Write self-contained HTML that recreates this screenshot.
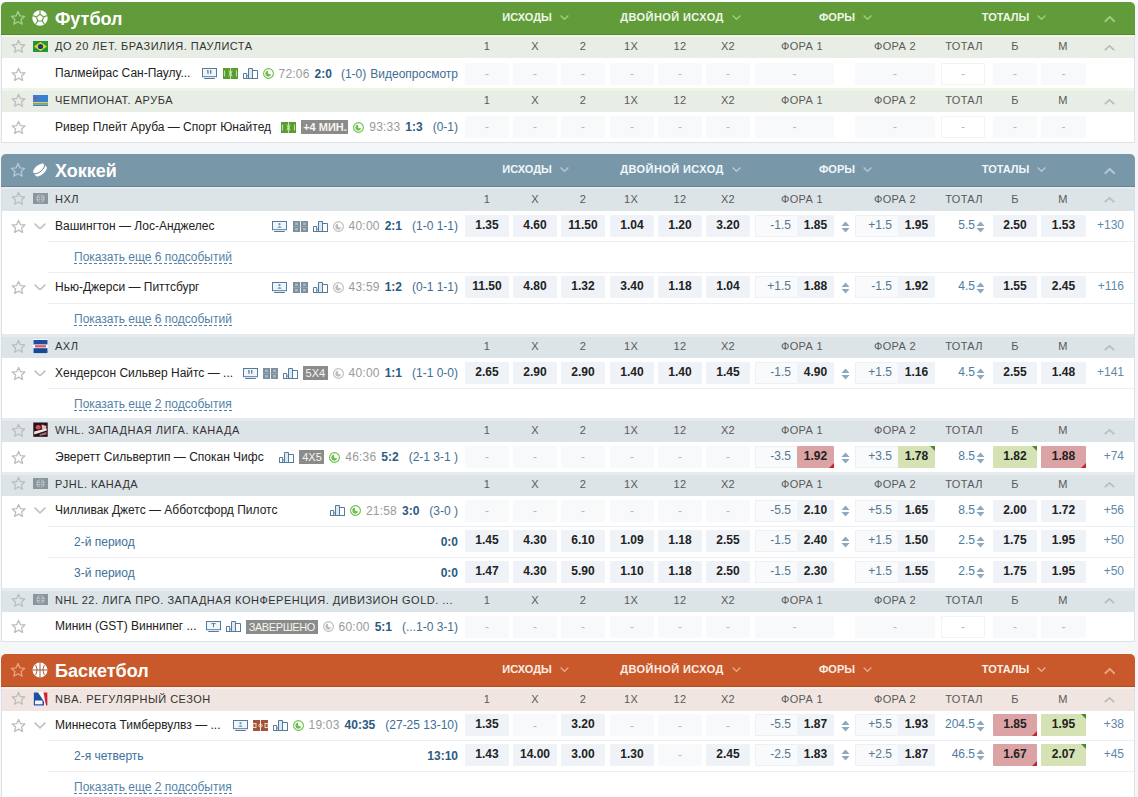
<!DOCTYPE html><html><head><meta charset="utf-8"><title>Live</title><style>html,body{margin:0;padding:0;}body{width:1138px;height:797px;overflow:hidden;position:relative;background:#f5f6f8;font-family:"Liberation Sans",sans-serif;}</style></head><body>
<div style="position:absolute;left:0px;top:0px;width:1138px;height:2px;background:#fbfcfc;"></div>
<div style="position:absolute;left:1px;top:2px;width:1132px;height:139.5px;background:#fff;border:1px solid #dde2e7;border-top:none;border-radius:5px 5px 0 0"></div>
<div style="position:absolute;left:1px;top:2px;width:1134px;height:32.5px;background:#629b3a;border-radius:5px 5px 0 0"></div>
<div style="position:absolute;left:1px;top:33.5px;width:1134px;height:1px;background:rgba(40,30,20,0.16);"></div>
<svg style="position:absolute;left:10.4px;top:10.4px" width="16" height="16" viewBox="0 0 24 24"><path d="M12 2.2l2.95 6.6 7.1.7-5.35 4.75 1.55 7-6.25-3.65-6.25 3.65 1.55-7L1.95 9.5l7.1-.7z" fill="none" stroke="#a6d08c" stroke-width="1.95" stroke-linejoin="round"/></svg>
<svg style="position:absolute;left:32.4px;top:9.8px" width="16" height="16" viewBox="0 0 16 16"><circle cx="8" cy="8" r="7.7" fill="#fff"/><polygon points="8.00,4.30 11.52,6.86 10.17,10.99 5.83,10.99 4.48,6.86" fill="#fff" stroke="#629b3a" stroke-width="1.1" stroke-linejoin="round"/><path d="M8.00 4.30L8.00 0.00M11.52 6.86L15.61 5.53M10.17 10.99L12.70 14.47M5.83 10.99L3.30 14.47M4.48 6.86L0.39 5.53" stroke="#629b3a" stroke-width="1.1"/></svg>
<div style="position:absolute;left:55px;top:9.7px;font-size:18px;line-height:1;color:#fff;font-weight:bold;white-space:nowrap;">Футбол</div>
<div style="position:absolute;left:435px;width:200px;top:12.1px;text-align:center;white-space:nowrap;font-size:11px;line-height:1;font-weight:bold;color:#eef7e7;letter-spacing:0px">ИСХОДЫ<span style="display:inline-block;width:8px;height:5px;margin-left:8px;position:relative;top:-0.8px"><svg width="9" height="5" viewBox="0 0 9 5" style="position:absolute;left:0;top:0"><path d="M0.6 0.6L4.5 4.3L8.4 0.6" fill="none" stroke="#9fcd82" stroke-width="1.4"/></svg></span></div>
<div style="position:absolute;left:580px;width:200px;top:12.1px;text-align:center;white-space:nowrap;font-size:11px;line-height:1;font-weight:bold;color:#eef7e7;letter-spacing:0.4px">ДВОЙНОЙ ИСХОД<span style="display:inline-block;width:8px;height:5px;margin-left:8px;position:relative;top:-0.8px"><svg width="9" height="5" viewBox="0 0 9 5" style="position:absolute;left:0;top:0"><path d="M0.6 0.6L4.5 4.3L8.4 0.6" fill="none" stroke="#9fcd82" stroke-width="1.4"/></svg></span></div>
<div style="position:absolute;left:745px;width:200px;top:12.1px;text-align:center;white-space:nowrap;font-size:11px;line-height:1;font-weight:bold;color:#eef7e7;letter-spacing:0px">ФОРЫ<span style="display:inline-block;width:8px;height:5px;margin-left:8px;position:relative;top:-0.8px"><svg width="9" height="5" viewBox="0 0 9 5" style="position:absolute;left:0;top:0"><path d="M0.6 0.6L4.5 4.3L8.4 0.6" fill="none" stroke="#9fcd82" stroke-width="1.4"/></svg></span></div>
<div style="position:absolute;left:913.5px;width:200px;top:12.1px;text-align:center;white-space:nowrap;font-size:11px;line-height:1;font-weight:bold;color:#eef7e7;letter-spacing:0px">ТОТАЛЫ<span style="display:inline-block;width:8px;height:5px;margin-left:8px;position:relative;top:-0.8px"><svg width="9" height="5" viewBox="0 0 9 5" style="position:absolute;left:0;top:0"><path d="M0.6 0.6L4.5 4.3L8.4 0.6" fill="none" stroke="#9fcd82" stroke-width="1.4"/></svg></span></div>
<svg style="position:absolute;left:1103.5px;top:16.4px" width="11.5" height="6.5" viewBox="0 0 11.5 6.5"><path d="M0.8 5.7L5.75 0.9L10.7 5.7" fill="none" stroke="#9fcd82" stroke-width="1.9"/></svg>
<div style="position:absolute;left:2px;top:34.5px;width:1132px;height:23.5px;background:#e8eee5;"></div>
<div style="position:absolute;left:2px;top:34.5px;width:1132px;height:2.5px;background:#eef7e6;"></div>
<svg style="position:absolute;left:10.5px;top:39.0px" width="15" height="15" viewBox="0 0 24 24"><path d="M12 2.2l2.95 6.6 7.1.7-5.35 4.75 1.55 7-6.25-3.65-6.25 3.65 1.55-7L1.95 9.5l7.1-.7z" fill="none" stroke="#bdbdbd" stroke-width="2.08" stroke-linejoin="round"/></svg>
<svg style="position:absolute;left:33px;top:40.75px" width="15" height="11" viewBox="0 0 15 11"><rect width="15" height="11" fill="#1f9a3a"/><path d="M7.5 1L14 5.5 7.5 10 1 5.5z" fill="#f3d21a"/><circle cx="7.5" cy="5.5" r="2.6" fill="#1d3b8c"/></svg>
<div style="position:absolute;left:55px;top:41.38px;font-size:11px;line-height:1;color:#333;font-weight:normal;white-space:nowrap;letter-spacing:0.5px">ДО 20 ЛЕТ. БРАЗИЛИЯ. ПАУЛИСТА</div>
<div style="position:absolute;left:437.0px;width:100px;text-align:center;top:41.38px;font-size:11px;line-height:1;color:#5a5a5a;font-weight:normal;white-space:nowrap;letter-spacing:0.3px">1</div>
<div style="position:absolute;left:485.0px;width:100px;text-align:center;top:41.38px;font-size:11px;line-height:1;color:#5a5a5a;font-weight:normal;white-space:nowrap;letter-spacing:0.3px">X</div>
<div style="position:absolute;left:533.0px;width:100px;text-align:center;top:41.38px;font-size:11px;line-height:1;color:#5a5a5a;font-weight:normal;white-space:nowrap;letter-spacing:0.3px">2</div>
<div style="position:absolute;left:581.0px;width:100px;text-align:center;top:41.38px;font-size:11px;line-height:1;color:#5a5a5a;font-weight:normal;white-space:nowrap;letter-spacing:0.3px">1X</div>
<div style="position:absolute;left:630.0px;width:100px;text-align:center;top:41.38px;font-size:11px;line-height:1;color:#5a5a5a;font-weight:normal;white-space:nowrap;letter-spacing:0.3px">12</div>
<div style="position:absolute;left:678.0px;width:100px;text-align:center;top:41.38px;font-size:11px;line-height:1;color:#5a5a5a;font-weight:normal;white-space:nowrap;letter-spacing:0.3px">X2</div>
<div style="position:absolute;left:752.0px;width:100px;text-align:center;top:41.38px;font-size:11px;line-height:1;color:#5a5a5a;font-weight:normal;white-space:nowrap;letter-spacing:0.3px">ФОРА 1</div>
<div style="position:absolute;left:845.0px;width:100px;text-align:center;top:41.38px;font-size:11px;line-height:1;color:#5a5a5a;font-weight:normal;white-space:nowrap;letter-spacing:0.3px">ФОРА 2</div>
<div style="position:absolute;left:914.0px;width:100px;text-align:center;top:41.38px;font-size:11px;line-height:1;color:#5a5a5a;font-weight:normal;white-space:nowrap;letter-spacing:0.3px">ТОТАЛ</div>
<div style="position:absolute;left:965.0px;width:100px;text-align:center;top:41.38px;font-size:11px;line-height:1;color:#5a5a5a;font-weight:normal;white-space:nowrap;letter-spacing:0.3px">Б</div>
<div style="position:absolute;left:1013.0px;width:100px;text-align:center;top:41.38px;font-size:11px;line-height:1;color:#5a5a5a;font-weight:normal;white-space:nowrap;letter-spacing:0.3px">М</div>
<svg style="position:absolute;left:1103.8px;top:44.8px" width="11" height="6" viewBox="0 0 11 6"><path d="M0.8 5.2L5.5 0.9L10.2 5.2" fill="none" stroke="#b9bcbf" stroke-width="1.7"/></svg>
<svg style="position:absolute;left:11.0px;top:66.6px" width="15.2" height="15.2" viewBox="0 0 24 24"><path d="M12 2.2l2.95 6.6 7.1.7-5.35 4.75 1.55 7-6.25-3.65-6.25 3.65 1.55-7L1.95 9.5l7.1-.7z" fill="none" stroke="#bdbdbd" stroke-width="2.05" stroke-linejoin="round"/></svg>
<div style="position:absolute;left:55px;top:67.4px;font-size:12px;line-height:1;color:#222;font-weight:normal;white-space:nowrap;">Палмейрас Сан-Паулу...</div>
<div style="position:absolute;right:680px;top:65.7px;height:16px;display:flex;align-items:center;white-space:nowrap;font-size:12px"><span style="position:relative;display:inline-block;width:15px;height:16px;margin-left:0px"><svg style="position:absolute;left:0px;top:2.5px" width="15" height="11" viewBox="0 0 15 11"><rect x="0.5" y="0.5" width="14" height="8.2" fill="#eef6fc" stroke="#557a9b" stroke-width="1"/><path d="M6 2.4v3.4M8.8 2.4v3.4M5.2 2.9l0.8-0.5M8 2.9l0.8-0.5" stroke="#3d5a72" stroke-width="1"/><rect x="2.2" y="10" width="10.6" height="1" fill="#557a9b"/></svg></span><span style="position:relative;display:inline-block;width:15px;height:16px;margin-left:6px"><svg style="position:absolute;left:0px;top:2.5999999999999996px" width="15" height="11" viewBox="0 0 15 11"><rect width="15" height="11" fill="#5a9c31"/><path d="M7.5 0v11" stroke="#c2e6a8" stroke-width="1"/><path d="M5.8 2.5c1.2 1.5 1.2 4.5 0 6M9.2 2.5c-1.2 1.5-1.2 4.5 0 6" fill="none" stroke="#c2e6a8" stroke-width="0.9"/><path d="M1.6 2.5v6M13.4 2.5v6" stroke="#c2e6a8" stroke-width="1"/></svg></span><span style="position:relative;display:inline-block;width:15px;height:16px;margin-left:5px"><svg style="position:absolute;left:0px;top:2.5px" width="15" height="11" viewBox="0 0 15 11"><rect x="5.5" y="0.5" width="4" height="10" fill="#dbe9f3"/><path d="M0.5 10.5V5.5h3.2v5M3.7 8h2M5.5 10.5V0.5h4v10M9.5 2.5h5v8M0 10.5h15" fill="none" stroke="#557a9b" stroke-width="1"/></svg></span><span style="position:relative;display:inline-block;width:11px;height:16px;margin-left:5px"><svg style="position:absolute;left:0px;top:2.5px" width="11" height="11" viewBox="0 0 11 11"><circle cx="5.5" cy="5.5" r="4.9" fill="#fff" stroke="#6cbf4a" stroke-width="1.1"/><path d="M4.9 2.5A3.1 3.1 0 1 0 8.3 6.6L5.3 5.9z" fill="#6cbf4a"/></svg></span><span style="color:#9a9a9a;font-weight:normal;margin-left:4.8px;letter-spacing:0.2px">72:06</span><span style="color:#2b5b82;font-weight:bold;margin-left:5px;letter-spacing:0px">2:0</span><span style="color:#3f6e93;font-weight:normal;margin-left:9px;letter-spacing:0px">(1-0)</span><span style="color:#3f6e93;font-weight:normal;margin-left:4px;letter-spacing:0px">Видеопросмотр</span></div>
<div style="position:absolute;left:465px;top:62.7px;width:44px;height:22px;background:#f8f9fb;border-radius:1px"></div>
<div style="position:absolute;left:465.0px;width:44px;text-align:center;top:67.84px;font-size:12px;line-height:1;color:#b3b7bb;font-weight:normal;white-space:nowrap;">-</div>
<div style="position:absolute;left:513px;top:62.7px;width:44px;height:22px;background:#f8f9fb;border-radius:1px"></div>
<div style="position:absolute;left:513.0px;width:44px;text-align:center;top:67.84px;font-size:12px;line-height:1;color:#b3b7bb;font-weight:normal;white-space:nowrap;">-</div>
<div style="position:absolute;left:561px;top:62.7px;width:44px;height:22px;background:#f8f9fb;border-radius:1px"></div>
<div style="position:absolute;left:561.0px;width:44px;text-align:center;top:67.84px;font-size:12px;line-height:1;color:#b3b7bb;font-weight:normal;white-space:nowrap;">-</div>
<div style="position:absolute;left:610px;top:62.7px;width:44px;height:22px;background:#f8f9fb;border-radius:1px"></div>
<div style="position:absolute;left:610.0px;width:44px;text-align:center;top:67.84px;font-size:12px;line-height:1;color:#b3b7bb;font-weight:normal;white-space:nowrap;">-</div>
<div style="position:absolute;left:658px;top:62.7px;width:44px;height:22px;background:#f8f9fb;border-radius:1px"></div>
<div style="position:absolute;left:658.0px;width:44px;text-align:center;top:67.84px;font-size:12px;line-height:1;color:#b3b7bb;font-weight:normal;white-space:nowrap;">-</div>
<div style="position:absolute;left:706px;top:62.7px;width:44px;height:22px;background:#f8f9fb;border-radius:1px"></div>
<div style="position:absolute;left:706.0px;width:44px;text-align:center;top:67.84px;font-size:12px;line-height:1;color:#b3b7bb;font-weight:normal;white-space:nowrap;">-</div>
<div style="position:absolute;left:755px;top:62.7px;width:79px;height:22px;background:#f8f9fb;border-radius:1px"></div>
<div style="position:absolute;left:755.0px;width:79px;text-align:center;top:67.84px;font-size:12px;line-height:1;color:#b3b7bb;font-weight:normal;white-space:nowrap;">-</div>
<div style="position:absolute;left:855px;top:62.7px;width:80px;height:22px;background:#f8f9fb;border-radius:1px"></div>
<div style="position:absolute;left:855.0px;width:80px;text-align:center;top:67.84px;font-size:12px;line-height:1;color:#b3b7bb;font-weight:normal;white-space:nowrap;">-</div>
<div style="position:absolute;left:941px;top:62.7px;width:44px;height:22px;background:#fff;box-sizing:border-box;border:1px solid #f1f3f5"></div>
<div style="position:absolute;left:943.0px;width:40px;text-align:center;top:67.84px;font-size:12px;line-height:1;color:#b3b7bb;font-weight:normal;white-space:nowrap;">-</div>
<div style="position:absolute;left:993px;top:62.7px;width:44px;height:22px;background:#f8f9fb;border-radius:1px"></div>
<div style="position:absolute;left:993.0px;width:44px;text-align:center;top:67.84px;font-size:12px;line-height:1;color:#b3b7bb;font-weight:normal;white-space:nowrap;">-</div>
<div style="position:absolute;left:1041px;top:62.7px;width:45px;height:22px;background:#f8f9fb;border-radius:1px"></div>
<div style="position:absolute;left:1041.0px;width:45px;text-align:center;top:67.84px;font-size:12px;line-height:1;color:#b3b7bb;font-weight:normal;white-space:nowrap;">-</div>
<div style="position:absolute;left:2px;top:88px;width:1132px;height:24px;background:#e8eee5;"></div>
<div style="position:absolute;left:2px;top:88px;width:1132px;height:2.5px;background:#eef7e6;"></div>
<svg style="position:absolute;left:10.5px;top:92.7px" width="15" height="15" viewBox="0 0 24 24"><path d="M12 2.2l2.95 6.6 7.1.7-5.35 4.75 1.55 7-6.25-3.65-6.25 3.65 1.55-7L1.95 9.5l7.1-.7z" fill="none" stroke="#bdbdbd" stroke-width="2.08" stroke-linejoin="round"/></svg>
<svg style="position:absolute;left:33px;top:94.5px" width="15" height="11" viewBox="0 0 15 11"><rect width="15" height="11" fill="#3b7fd0"/><rect y="7" width="15" height="1" fill="#e8d23a"/><rect y="8.6" width="15" height="0.9" fill="#e8d23a"/><path d="M2.5 1.2l.5 1.3 1.3.5-1.3.5-.5 1.3-.5-1.3-1.3-.5 1.3-.5z" fill="#d33"/></svg>
<div style="position:absolute;left:55px;top:95.13px;font-size:11px;line-height:1;color:#333;font-weight:normal;white-space:nowrap;letter-spacing:0.5px">ЧЕМПИОНАТ. АРУБА</div>
<div style="position:absolute;left:437.0px;width:100px;text-align:center;top:95.13px;font-size:11px;line-height:1;color:#5a5a5a;font-weight:normal;white-space:nowrap;letter-spacing:0.3px">1</div>
<div style="position:absolute;left:485.0px;width:100px;text-align:center;top:95.13px;font-size:11px;line-height:1;color:#5a5a5a;font-weight:normal;white-space:nowrap;letter-spacing:0.3px">X</div>
<div style="position:absolute;left:533.0px;width:100px;text-align:center;top:95.13px;font-size:11px;line-height:1;color:#5a5a5a;font-weight:normal;white-space:nowrap;letter-spacing:0.3px">2</div>
<div style="position:absolute;left:581.0px;width:100px;text-align:center;top:95.13px;font-size:11px;line-height:1;color:#5a5a5a;font-weight:normal;white-space:nowrap;letter-spacing:0.3px">1X</div>
<div style="position:absolute;left:630.0px;width:100px;text-align:center;top:95.13px;font-size:11px;line-height:1;color:#5a5a5a;font-weight:normal;white-space:nowrap;letter-spacing:0.3px">12</div>
<div style="position:absolute;left:678.0px;width:100px;text-align:center;top:95.13px;font-size:11px;line-height:1;color:#5a5a5a;font-weight:normal;white-space:nowrap;letter-spacing:0.3px">X2</div>
<div style="position:absolute;left:752.0px;width:100px;text-align:center;top:95.13px;font-size:11px;line-height:1;color:#5a5a5a;font-weight:normal;white-space:nowrap;letter-spacing:0.3px">ФОРА 1</div>
<div style="position:absolute;left:845.0px;width:100px;text-align:center;top:95.13px;font-size:11px;line-height:1;color:#5a5a5a;font-weight:normal;white-space:nowrap;letter-spacing:0.3px">ФОРА 2</div>
<div style="position:absolute;left:914.0px;width:100px;text-align:center;top:95.13px;font-size:11px;line-height:1;color:#5a5a5a;font-weight:normal;white-space:nowrap;letter-spacing:0.3px">ТОТАЛ</div>
<div style="position:absolute;left:965.0px;width:100px;text-align:center;top:95.13px;font-size:11px;line-height:1;color:#5a5a5a;font-weight:normal;white-space:nowrap;letter-spacing:0.3px">Б</div>
<div style="position:absolute;left:1013.0px;width:100px;text-align:center;top:95.13px;font-size:11px;line-height:1;color:#5a5a5a;font-weight:normal;white-space:nowrap;letter-spacing:0.3px">М</div>
<svg style="position:absolute;left:1103.8px;top:98.5px" width="11" height="6" viewBox="0 0 11 6"><path d="M0.8 5.2L5.5 0.9L10.2 5.2" fill="none" stroke="#b9bcbf" stroke-width="1.7"/></svg>
<svg style="position:absolute;left:11.0px;top:119.9px" width="15.2" height="15.2" viewBox="0 0 24 24"><path d="M12 2.2l2.95 6.6 7.1.7-5.35 4.75 1.55 7-6.25-3.65-6.25 3.65 1.55-7L1.95 9.5l7.1-.7z" fill="none" stroke="#bdbdbd" stroke-width="2.05" stroke-linejoin="round"/></svg>
<div style="position:absolute;left:55px;top:120.7px;font-size:12px;line-height:1;color:#222;font-weight:normal;white-space:nowrap;">Ривер Плейт Аруба — Спорт Юнайтед</div>
<div style="position:absolute;right:680px;top:119px;height:16px;display:flex;align-items:center;white-space:nowrap;font-size:12px"><span style="position:relative;display:inline-block;width:15px;height:16px;margin-left:0px"><svg style="position:absolute;left:0px;top:2.5999999999999996px" width="15" height="11" viewBox="0 0 15 11"><rect width="15" height="11" fill="#5a9c31"/><path d="M7.5 0v11" stroke="#c2e6a8" stroke-width="1"/><path d="M5.8 2.5c1.2 1.5 1.2 4.5 0 6M9.2 2.5c-1.2 1.5-1.2 4.5 0 6" fill="none" stroke="#c2e6a8" stroke-width="0.9"/><path d="M1.6 2.5v6M13.4 2.5v6" stroke="#c2e6a8" stroke-width="1"/></svg></span><span style="display:inline-block;margin-left:5px;width:47px;height:14px;background:#8b8b8b;color:#f6f6ee;font-size:11px;font-weight:normal;line-height:14px;text-align:center;font-weight:bold">+4 МИН.</span><span style="position:relative;display:inline-block;width:11px;height:16px;margin-left:5px"><svg style="position:absolute;left:0px;top:2.5px" width="11" height="11" viewBox="0 0 11 11"><circle cx="5.5" cy="5.5" r="4.9" fill="#fff" stroke="#6cbf4a" stroke-width="1.1"/><path d="M4.9 2.5A3.1 3.1 0 1 0 8.3 6.6L5.3 5.9z" fill="#6cbf4a"/></svg></span><span style="color:#9a9a9a;font-weight:normal;margin-left:4.8px;letter-spacing:0.2px">93:33</span><span style="color:#2b5b82;font-weight:bold;margin-left:5px;letter-spacing:0px">1:3</span><span style="color:#3f6e93;font-weight:normal;margin-left:10px;letter-spacing:0px">(0-1)</span></div>
<div style="position:absolute;left:465px;top:116px;width:44px;height:22px;background:#f8f9fb;border-radius:1px"></div>
<div style="position:absolute;left:465.0px;width:44px;text-align:center;top:121.14px;font-size:12px;line-height:1;color:#b3b7bb;font-weight:normal;white-space:nowrap;">-</div>
<div style="position:absolute;left:513px;top:116px;width:44px;height:22px;background:#f8f9fb;border-radius:1px"></div>
<div style="position:absolute;left:513.0px;width:44px;text-align:center;top:121.14px;font-size:12px;line-height:1;color:#b3b7bb;font-weight:normal;white-space:nowrap;">-</div>
<div style="position:absolute;left:561px;top:116px;width:44px;height:22px;background:#f8f9fb;border-radius:1px"></div>
<div style="position:absolute;left:561.0px;width:44px;text-align:center;top:121.14px;font-size:12px;line-height:1;color:#b3b7bb;font-weight:normal;white-space:nowrap;">-</div>
<div style="position:absolute;left:610px;top:116px;width:44px;height:22px;background:#f8f9fb;border-radius:1px"></div>
<div style="position:absolute;left:610.0px;width:44px;text-align:center;top:121.14px;font-size:12px;line-height:1;color:#b3b7bb;font-weight:normal;white-space:nowrap;">-</div>
<div style="position:absolute;left:658px;top:116px;width:44px;height:22px;background:#f8f9fb;border-radius:1px"></div>
<div style="position:absolute;left:658.0px;width:44px;text-align:center;top:121.14px;font-size:12px;line-height:1;color:#b3b7bb;font-weight:normal;white-space:nowrap;">-</div>
<div style="position:absolute;left:706px;top:116px;width:44px;height:22px;background:#f8f9fb;border-radius:1px"></div>
<div style="position:absolute;left:706.0px;width:44px;text-align:center;top:121.14px;font-size:12px;line-height:1;color:#b3b7bb;font-weight:normal;white-space:nowrap;">-</div>
<div style="position:absolute;left:755px;top:116px;width:79px;height:22px;background:#f8f9fb;border-radius:1px"></div>
<div style="position:absolute;left:755.0px;width:79px;text-align:center;top:121.14px;font-size:12px;line-height:1;color:#b3b7bb;font-weight:normal;white-space:nowrap;">-</div>
<div style="position:absolute;left:855px;top:116px;width:80px;height:22px;background:#f8f9fb;border-radius:1px"></div>
<div style="position:absolute;left:855.0px;width:80px;text-align:center;top:121.14px;font-size:12px;line-height:1;color:#b3b7bb;font-weight:normal;white-space:nowrap;">-</div>
<div style="position:absolute;left:941px;top:116px;width:44px;height:22px;background:#fff;box-sizing:border-box;border:1px solid #f1f3f5"></div>
<div style="position:absolute;left:943.0px;width:40px;text-align:center;top:121.14px;font-size:12px;line-height:1;color:#b3b7bb;font-weight:normal;white-space:nowrap;">-</div>
<div style="position:absolute;left:993px;top:116px;width:44px;height:22px;background:#f8f9fb;border-radius:1px"></div>
<div style="position:absolute;left:993.0px;width:44px;text-align:center;top:121.14px;font-size:12px;line-height:1;color:#b3b7bb;font-weight:normal;white-space:nowrap;">-</div>
<div style="position:absolute;left:1041px;top:116px;width:45px;height:22px;background:#f8f9fb;border-radius:1px"></div>
<div style="position:absolute;left:1041.0px;width:45px;text-align:center;top:121.14px;font-size:12px;line-height:1;color:#b3b7bb;font-weight:normal;white-space:nowrap;">-</div>
<div style="position:absolute;left:1px;top:154px;width:1132px;height:487.29999999999995px;background:#fff;border:1px solid #dde2e7;border-top:none;border-radius:5px 5px 0 0"></div>
<div style="position:absolute;left:1px;top:154px;width:1134px;height:32.5px;background:#7897a9;border-radius:5px 5px 0 0"></div>
<div style="position:absolute;left:1px;top:185.5px;width:1134px;height:1px;background:rgba(40,30,20,0.16);"></div>
<svg style="position:absolute;left:10.4px;top:162.4px" width="16" height="16" viewBox="0 0 24 24"><path d="M12 2.2l2.95 6.6 7.1.7-5.35 4.75 1.55 7-6.25-3.65-6.25 3.65 1.55-7L1.95 9.5l7.1-.7z" fill="none" stroke="#b3c8d4" stroke-width="1.95" stroke-linejoin="round"/></svg>
<svg style="position:absolute;left:32.2px;top:161.6px" width="16" height="16" viewBox="0 0 16 16"><g transform="rotate(-40 8 8)"><path d="M1 6.2a7 3.3 0 0 1 14 0v3.4a7 3.3 0 0 1-14 0z" fill="#fff"/><path d="M1 6.2a7 3.3 0 0 0 14 0" fill="none" stroke="#5c7686" stroke-width="0.9"/></g></svg>
<div style="position:absolute;left:55px;top:161.7px;font-size:18px;line-height:1;color:#fff;font-weight:bold;white-space:nowrap;">Хоккей</div>
<div style="position:absolute;left:435px;width:200px;top:164.1px;text-align:center;white-space:nowrap;font-size:11px;line-height:1;font-weight:bold;color:#f2f7fa;letter-spacing:0px">ИСХОДЫ<span style="display:inline-block;width:8px;height:5px;margin-left:8px;position:relative;top:-0.8px"><svg width="9" height="5" viewBox="0 0 9 5" style="position:absolute;left:0;top:0"><path d="M0.6 0.6L4.5 4.3L8.4 0.6" fill="none" stroke="#b4c9d5" stroke-width="1.4"/></svg></span></div>
<div style="position:absolute;left:580px;width:200px;top:164.1px;text-align:center;white-space:nowrap;font-size:11px;line-height:1;font-weight:bold;color:#f2f7fa;letter-spacing:0.4px">ДВОЙНОЙ ИСХОД<span style="display:inline-block;width:8px;height:5px;margin-left:8px;position:relative;top:-0.8px"><svg width="9" height="5" viewBox="0 0 9 5" style="position:absolute;left:0;top:0"><path d="M0.6 0.6L4.5 4.3L8.4 0.6" fill="none" stroke="#b4c9d5" stroke-width="1.4"/></svg></span></div>
<div style="position:absolute;left:745px;width:200px;top:164.1px;text-align:center;white-space:nowrap;font-size:11px;line-height:1;font-weight:bold;color:#f2f7fa;letter-spacing:0px">ФОРЫ<span style="display:inline-block;width:8px;height:5px;margin-left:8px;position:relative;top:-0.8px"><svg width="9" height="5" viewBox="0 0 9 5" style="position:absolute;left:0;top:0"><path d="M0.6 0.6L4.5 4.3L8.4 0.6" fill="none" stroke="#b4c9d5" stroke-width="1.4"/></svg></span></div>
<div style="position:absolute;left:913.5px;width:200px;top:164.1px;text-align:center;white-space:nowrap;font-size:11px;line-height:1;font-weight:bold;color:#f2f7fa;letter-spacing:0px">ТОТАЛЫ<span style="display:inline-block;width:8px;height:5px;margin-left:8px;position:relative;top:-0.8px"><svg width="9" height="5" viewBox="0 0 9 5" style="position:absolute;left:0;top:0"><path d="M0.6 0.6L4.5 4.3L8.4 0.6" fill="none" stroke="#b4c9d5" stroke-width="1.4"/></svg></span></div>
<svg style="position:absolute;left:1103.5px;top:168.3px" width="11.5" height="6.5" viewBox="0 0 11.5 6.5"><path d="M0.8 5.7L5.75 0.9L10.7 5.7" fill="none" stroke="#b4c9d5" stroke-width="1.9"/></svg>
<div style="position:absolute;left:2px;top:186.5px;width:1132px;height:24.5px;background:#dde4e8;"></div>
<div style="position:absolute;left:2px;top:186.5px;width:1132px;height:2.5px;background:#e5ebee;"></div>
<svg style="position:absolute;left:10.5px;top:191.4px" width="15" height="15" viewBox="0 0 24 24"><path d="M12 2.2l2.95 6.6 7.1.7-5.35 4.75 1.55 7-6.25-3.65-6.25 3.65 1.55-7L1.95 9.5l7.1-.7z" fill="none" stroke="#bdbdbd" stroke-width="2.08" stroke-linejoin="round"/></svg>
<svg style="position:absolute;left:33px;top:193.25px" width="15" height="11" viewBox="0 0 15 11"><rect width="15" height="11" fill="#8b959d"/><circle cx="7.5" cy="5.5" r="4" fill="#c9d0d5"/><path d="M3.5 5.5h8M7.5 1.5v8M4.6 3.2h5.8M4.6 7.8h5.8" stroke="#8b959d" stroke-width="0.8"/><ellipse cx="7.5" cy="5.5" rx="1.8" ry="4" fill="none" stroke="#8b959d" stroke-width="0.8"/></svg>
<div style="position:absolute;left:55px;top:193.88px;font-size:11px;line-height:1;color:#333;font-weight:normal;white-space:nowrap;letter-spacing:0.5px">НХЛ</div>
<div style="position:absolute;left:437.0px;width:100px;text-align:center;top:193.88px;font-size:11px;line-height:1;color:#5a5a5a;font-weight:normal;white-space:nowrap;letter-spacing:0.3px">1</div>
<div style="position:absolute;left:485.0px;width:100px;text-align:center;top:193.88px;font-size:11px;line-height:1;color:#5a5a5a;font-weight:normal;white-space:nowrap;letter-spacing:0.3px">X</div>
<div style="position:absolute;left:533.0px;width:100px;text-align:center;top:193.88px;font-size:11px;line-height:1;color:#5a5a5a;font-weight:normal;white-space:nowrap;letter-spacing:0.3px">2</div>
<div style="position:absolute;left:581.0px;width:100px;text-align:center;top:193.88px;font-size:11px;line-height:1;color:#5a5a5a;font-weight:normal;white-space:nowrap;letter-spacing:0.3px">1X</div>
<div style="position:absolute;left:630.0px;width:100px;text-align:center;top:193.88px;font-size:11px;line-height:1;color:#5a5a5a;font-weight:normal;white-space:nowrap;letter-spacing:0.3px">12</div>
<div style="position:absolute;left:678.0px;width:100px;text-align:center;top:193.88px;font-size:11px;line-height:1;color:#5a5a5a;font-weight:normal;white-space:nowrap;letter-spacing:0.3px">X2</div>
<div style="position:absolute;left:752.0px;width:100px;text-align:center;top:193.88px;font-size:11px;line-height:1;color:#5a5a5a;font-weight:normal;white-space:nowrap;letter-spacing:0.3px">ФОРА 1</div>
<div style="position:absolute;left:845.0px;width:100px;text-align:center;top:193.88px;font-size:11px;line-height:1;color:#5a5a5a;font-weight:normal;white-space:nowrap;letter-spacing:0.3px">ФОРА 2</div>
<div style="position:absolute;left:914.0px;width:100px;text-align:center;top:193.88px;font-size:11px;line-height:1;color:#5a5a5a;font-weight:normal;white-space:nowrap;letter-spacing:0.3px">ТОТАЛ</div>
<div style="position:absolute;left:965.0px;width:100px;text-align:center;top:193.88px;font-size:11px;line-height:1;color:#5a5a5a;font-weight:normal;white-space:nowrap;letter-spacing:0.3px">Б</div>
<div style="position:absolute;left:1013.0px;width:100px;text-align:center;top:193.88px;font-size:11px;line-height:1;color:#5a5a5a;font-weight:normal;white-space:nowrap;letter-spacing:0.3px">М</div>
<svg style="position:absolute;left:1103.8px;top:197.2px" width="11" height="6" viewBox="0 0 11 6"><path d="M0.8 5.2L5.5 0.9L10.2 5.2" fill="none" stroke="#b9bcbf" stroke-width="1.7"/></svg>
<svg style="position:absolute;left:11.0px;top:218.9px" width="15.2" height="15.2" viewBox="0 0 24 24"><path d="M12 2.2l2.95 6.6 7.1.7-5.35 4.75 1.55 7-6.25-3.65-6.25 3.65 1.55-7L1.95 9.5l7.1-.7z" fill="none" stroke="#bdbdbd" stroke-width="2.05" stroke-linejoin="round"/></svg>
<svg style="position:absolute;left:34.0px;top:222.8px" width="12" height="6.5" viewBox="0 0 12 6.5"><path d="M0.6 0.6L6.0 5.8L11.4 0.6" fill="none" stroke="#bfc3c7" stroke-width="1.7"/></svg>
<div style="position:absolute;left:55px;top:219.7px;font-size:12px;line-height:1;color:#222;font-weight:normal;white-space:nowrap;">Вашингтон — Лос-Анджелес</div>
<div style="position:absolute;right:680px;top:218px;height:16px;display:flex;align-items:center;white-space:nowrap;font-size:12px"><span style="position:relative;display:inline-block;width:15px;height:16px;margin-left:0px"><svg style="position:absolute;left:0px;top:2.5px" width="15" height="11" viewBox="0 0 15 11"><rect x="0.5" y="0.5" width="14" height="8.2" fill="#eef6fc" stroke="#557a9b" stroke-width="1"/><circle cx="7.5" cy="3.2" r="1.1" fill="#6d93b3"/><path d="M5.6 6.8c0-2 3.8-2 3.8 0z" fill="#6d93b3"/><rect x="2.2" y="10" width="10.6" height="1" fill="#557a9b"/></svg></span><span style="position:relative;display:inline-block;width:15px;height:16px;margin-left:6px"><svg style="position:absolute;left:0px;top:2.5px" width="15" height="11" viewBox="0 0 15 11"><rect width="15" height="11" fill="#7b8e9c"/><path d="M7.5 0v11" stroke="#f2f4f6" stroke-width="1"/><rect x="2" y="1.6" width="3" height="2.4" fill="#aab8c2"/><rect x="10" y="1.6" width="3" height="2.4" fill="#aab8c2"/><rect x="2" y="7" width="3" height="2.4" fill="#aab8c2"/><rect x="10" y="7" width="3" height="2.4" fill="#aab8c2"/><path d="M0 5.5h15" stroke="#9aaab6" stroke-width="0.8"/></svg></span><span style="position:relative;display:inline-block;width:15px;height:16px;margin-left:5px"><svg style="position:absolute;left:0px;top:2.5px" width="15" height="11" viewBox="0 0 15 11"><rect x="5.5" y="0.5" width="4" height="10" fill="#dbe9f3"/><path d="M0.5 10.5V5.5h3.2v5M3.7 8h2M5.5 10.5V0.5h4v10M9.5 2.5h5v8M0 10.5h15" fill="none" stroke="#557a9b" stroke-width="1"/></svg></span><span style="position:relative;display:inline-block;width:11px;height:16px;margin-left:5px"><svg style="position:absolute;left:0px;top:2.5px" width="11" height="11" viewBox="0 0 11 11"><circle cx="5.5" cy="5.5" r="4.9" fill="#fff" stroke="#bdbdbd" stroke-width="1.1"/><path d="M4.9 2.5A3.1 3.1 0 1 0 8.3 6.6L5.3 5.9z" fill="#bdbdbd"/></svg></span><span style="color:#9a9a9a;font-weight:normal;margin-left:4.8px;letter-spacing:0.2px">40:00</span><span style="color:#2b5b82;font-weight:bold;margin-left:5px;letter-spacing:0px">2:1</span><span style="color:#3f6e93;font-weight:normal;margin-left:10px;letter-spacing:0px">(1-0 1-1)</span></div>
<div style="position:absolute;left:465px;top:215px;width:44px;height:22px;background:#eff2f6;border-radius:1px"></div>
<div style="position:absolute;left:465.0px;width:44px;text-align:center;top:219.0px;font-size:12px;line-height:1;color:#222;font-weight:bold;white-space:nowrap;">1.35</div>
<div style="position:absolute;left:513px;top:215px;width:44px;height:22px;background:#eff2f6;border-radius:1px"></div>
<div style="position:absolute;left:513.0px;width:44px;text-align:center;top:219.0px;font-size:12px;line-height:1;color:#222;font-weight:bold;white-space:nowrap;">4.60</div>
<div style="position:absolute;left:561px;top:215px;width:44px;height:22px;background:#eff2f6;border-radius:1px"></div>
<div style="position:absolute;left:561.0px;width:44px;text-align:center;top:219.0px;font-size:12px;line-height:1;color:#222;font-weight:bold;white-space:nowrap;">11.50</div>
<div style="position:absolute;left:610px;top:215px;width:44px;height:22px;background:#eff2f6;border-radius:1px"></div>
<div style="position:absolute;left:610.0px;width:44px;text-align:center;top:219.0px;font-size:12px;line-height:1;color:#222;font-weight:bold;white-space:nowrap;">1.04</div>
<div style="position:absolute;left:658px;top:215px;width:44px;height:22px;background:#eff2f6;border-radius:1px"></div>
<div style="position:absolute;left:658.0px;width:44px;text-align:center;top:219.0px;font-size:12px;line-height:1;color:#222;font-weight:bold;white-space:nowrap;">1.20</div>
<div style="position:absolute;left:706px;top:215px;width:44px;height:22px;background:#eff2f6;border-radius:1px"></div>
<div style="position:absolute;left:706.0px;width:44px;text-align:center;top:219.0px;font-size:12px;line-height:1;color:#222;font-weight:bold;white-space:nowrap;">3.20</div>
<div style="position:absolute;left:755px;top:215px;width:42px;height:22px;background:#f9fafc;box-sizing:border-box;border:1px solid #eef0f3;border-right:none"></div>
<div style="position:absolute;left:591px;width:200px;text-align:right;top:219.0px;font-size:12px;line-height:1;color:#56778f;font-weight:normal;white-space:nowrap;">-1.5</div>
<div style="position:absolute;left:797px;top:215px;width:37px;height:22px;background:#eff2f6;border-radius:1px"></div>
<div style="position:absolute;left:797.0px;width:37px;text-align:center;top:219.0px;font-size:12px;line-height:1;color:#222;font-weight:bold;white-space:nowrap;">1.85</div>
<svg style="position:absolute;left:840.5px;top:220.5px" width="9" height="12" viewBox="0 0 9 12"><path d="M4.5 0.5L8.5 5H0.5z M4.5 11.5L8.5 7H0.5z" fill="#8ea8bd"/></svg>
<div style="position:absolute;left:855px;top:215px;width:43px;height:22px;background:#f9fafc;box-sizing:border-box;border:1px solid #eef0f3;border-right:none"></div>
<div style="position:absolute;left:692px;width:200px;text-align:right;top:219.0px;font-size:12px;line-height:1;color:#56778f;font-weight:normal;white-space:nowrap;">+1.5</div>
<div style="position:absolute;left:898px;top:215px;width:37px;height:22px;background:#eff2f6;border-radius:1px"></div>
<div style="position:absolute;left:898.0px;width:37px;text-align:center;top:219.0px;font-size:12px;line-height:1;color:#222;font-weight:bold;white-space:nowrap;">1.95</div>
<div style="position:absolute;left:775px;width:200px;text-align:right;top:219.0px;font-size:12px;line-height:1;color:#4f7c9f;font-weight:normal;white-space:nowrap;">5.5</div>
<svg style="position:absolute;left:976.0px;top:220.5px" width="9" height="12" viewBox="0 0 9 12"><path d="M4.5 0.5L8.5 5H0.5z M4.5 11.5L8.5 7H0.5z" fill="#8ea8bd"/></svg>
<div style="position:absolute;left:993px;top:215px;width:44px;height:22px;background:#eff2f6;border-radius:1px"></div>
<div style="position:absolute;left:993.0px;width:44px;text-align:center;top:219.0px;font-size:12px;line-height:1;color:#222;font-weight:bold;white-space:nowrap;">2.50</div>
<div style="position:absolute;left:1041px;top:215px;width:45px;height:22px;background:#eff2f6;border-radius:1px"></div>
<div style="position:absolute;left:1041.0px;width:45px;text-align:center;top:219.0px;font-size:12px;line-height:1;color:#222;font-weight:bold;white-space:nowrap;">1.53</div>
<div style="position:absolute;left:924px;width:200px;text-align:right;top:219.0px;font-size:12px;line-height:1;color:#6089a8;font-weight:normal;white-space:nowrap;">+130</div>
<div style="position:absolute;left:48px;top:241px;width:1086px;height:1px;background:#eceef1;"></div>
<div style="position:absolute;left:74px;top:251.0px;font-size:12px;line-height:1;color:#5282a8;font-weight:normal;white-space:nowrap;border-bottom:1px dashed #56809f;padding-bottom:0px;line-height:12px">Показать еще 6 подсобытий</div>
<div style="position:absolute;left:48px;top:272px;width:1086px;height:1px;background:#eceef1;"></div>
<svg style="position:absolute;left:11.0px;top:279.9px" width="15.2" height="15.2" viewBox="0 0 24 24"><path d="M12 2.2l2.95 6.6 7.1.7-5.35 4.75 1.55 7-6.25-3.65-6.25 3.65 1.55-7L1.95 9.5l7.1-.7z" fill="none" stroke="#bdbdbd" stroke-width="2.05" stroke-linejoin="round"/></svg>
<svg style="position:absolute;left:34.0px;top:283.8px" width="12" height="6.5" viewBox="0 0 12 6.5"><path d="M0.6 0.6L6.0 5.8L11.4 0.6" fill="none" stroke="#bfc3c7" stroke-width="1.7"/></svg>
<div style="position:absolute;left:55px;top:280.7px;font-size:12px;line-height:1;color:#222;font-weight:normal;white-space:nowrap;">Нью-Джерси — Питтсбург</div>
<div style="position:absolute;right:680px;top:279px;height:16px;display:flex;align-items:center;white-space:nowrap;font-size:12px"><span style="position:relative;display:inline-block;width:15px;height:16px;margin-left:0px"><svg style="position:absolute;left:0px;top:2.5px" width="15" height="11" viewBox="0 0 15 11"><rect x="0.5" y="0.5" width="14" height="8.2" fill="#eef6fc" stroke="#557a9b" stroke-width="1"/><circle cx="7.5" cy="3.2" r="1.1" fill="#6d93b3"/><path d="M5.6 6.8c0-2 3.8-2 3.8 0z" fill="#6d93b3"/><rect x="2.2" y="10" width="10.6" height="1" fill="#557a9b"/></svg></span><span style="position:relative;display:inline-block;width:15px;height:16px;margin-left:6px"><svg style="position:absolute;left:0px;top:2.5px" width="15" height="11" viewBox="0 0 15 11"><rect width="15" height="11" fill="#7b8e9c"/><path d="M7.5 0v11" stroke="#f2f4f6" stroke-width="1"/><rect x="2" y="1.6" width="3" height="2.4" fill="#aab8c2"/><rect x="10" y="1.6" width="3" height="2.4" fill="#aab8c2"/><rect x="2" y="7" width="3" height="2.4" fill="#aab8c2"/><rect x="10" y="7" width="3" height="2.4" fill="#aab8c2"/><path d="M0 5.5h15" stroke="#9aaab6" stroke-width="0.8"/></svg></span><span style="position:relative;display:inline-block;width:15px;height:16px;margin-left:5px"><svg style="position:absolute;left:0px;top:2.5px" width="15" height="11" viewBox="0 0 15 11"><rect x="5.5" y="0.5" width="4" height="10" fill="#dbe9f3"/><path d="M0.5 10.5V5.5h3.2v5M3.7 8h2M5.5 10.5V0.5h4v10M9.5 2.5h5v8M0 10.5h15" fill="none" stroke="#557a9b" stroke-width="1"/></svg></span><span style="position:relative;display:inline-block;width:11px;height:16px;margin-left:5px"><svg style="position:absolute;left:0px;top:2.5px" width="11" height="11" viewBox="0 0 11 11"><circle cx="5.5" cy="5.5" r="4.9" fill="#fff" stroke="#bdbdbd" stroke-width="1.1"/><path d="M4.9 2.5A3.1 3.1 0 1 0 8.3 6.6L5.3 5.9z" fill="#bdbdbd"/></svg></span><span style="color:#9a9a9a;font-weight:normal;margin-left:4.8px;letter-spacing:0.2px">43:59</span><span style="color:#2b5b82;font-weight:bold;margin-left:5px;letter-spacing:0px">1:2</span><span style="color:#3f6e93;font-weight:normal;margin-left:10px;letter-spacing:0px">(0-1 1-1)</span></div>
<div style="position:absolute;left:465px;top:276px;width:44px;height:22px;background:#eff2f6;border-radius:1px"></div>
<div style="position:absolute;left:465.0px;width:44px;text-align:center;top:280.0px;font-size:12px;line-height:1;color:#222;font-weight:bold;white-space:nowrap;">11.50</div>
<div style="position:absolute;left:513px;top:276px;width:44px;height:22px;background:#eff2f6;border-radius:1px"></div>
<div style="position:absolute;left:513.0px;width:44px;text-align:center;top:280.0px;font-size:12px;line-height:1;color:#222;font-weight:bold;white-space:nowrap;">4.80</div>
<div style="position:absolute;left:561px;top:276px;width:44px;height:22px;background:#eff2f6;border-radius:1px"></div>
<div style="position:absolute;left:561.0px;width:44px;text-align:center;top:280.0px;font-size:12px;line-height:1;color:#222;font-weight:bold;white-space:nowrap;">1.32</div>
<div style="position:absolute;left:610px;top:276px;width:44px;height:22px;background:#eff2f6;border-radius:1px"></div>
<div style="position:absolute;left:610.0px;width:44px;text-align:center;top:280.0px;font-size:12px;line-height:1;color:#222;font-weight:bold;white-space:nowrap;">3.40</div>
<div style="position:absolute;left:658px;top:276px;width:44px;height:22px;background:#eff2f6;border-radius:1px"></div>
<div style="position:absolute;left:658.0px;width:44px;text-align:center;top:280.0px;font-size:12px;line-height:1;color:#222;font-weight:bold;white-space:nowrap;">1.18</div>
<div style="position:absolute;left:706px;top:276px;width:44px;height:22px;background:#eff2f6;border-radius:1px"></div>
<div style="position:absolute;left:706.0px;width:44px;text-align:center;top:280.0px;font-size:12px;line-height:1;color:#222;font-weight:bold;white-space:nowrap;">1.04</div>
<div style="position:absolute;left:755px;top:276px;width:42px;height:22px;background:#f9fafc;box-sizing:border-box;border:1px solid #eef0f3;border-right:none"></div>
<div style="position:absolute;left:591px;width:200px;text-align:right;top:280.0px;font-size:12px;line-height:1;color:#56778f;font-weight:normal;white-space:nowrap;">+1.5</div>
<div style="position:absolute;left:797px;top:276px;width:37px;height:22px;background:#eff2f6;border-radius:1px"></div>
<div style="position:absolute;left:797.0px;width:37px;text-align:center;top:280.0px;font-size:12px;line-height:1;color:#222;font-weight:bold;white-space:nowrap;">1.88</div>
<svg style="position:absolute;left:840.5px;top:281.5px" width="9" height="12" viewBox="0 0 9 12"><path d="M4.5 0.5L8.5 5H0.5z M4.5 11.5L8.5 7H0.5z" fill="#8ea8bd"/></svg>
<div style="position:absolute;left:855px;top:276px;width:43px;height:22px;background:#f9fafc;box-sizing:border-box;border:1px solid #eef0f3;border-right:none"></div>
<div style="position:absolute;left:692px;width:200px;text-align:right;top:280.0px;font-size:12px;line-height:1;color:#56778f;font-weight:normal;white-space:nowrap;">-1.5</div>
<div style="position:absolute;left:898px;top:276px;width:37px;height:22px;background:#eff2f6;border-radius:1px"></div>
<div style="position:absolute;left:898.0px;width:37px;text-align:center;top:280.0px;font-size:12px;line-height:1;color:#222;font-weight:bold;white-space:nowrap;">1.92</div>
<div style="position:absolute;left:775px;width:200px;text-align:right;top:280.0px;font-size:12px;line-height:1;color:#4f7c9f;font-weight:normal;white-space:nowrap;">4.5</div>
<svg style="position:absolute;left:976.0px;top:281.5px" width="9" height="12" viewBox="0 0 9 12"><path d="M4.5 0.5L8.5 5H0.5z M4.5 11.5L8.5 7H0.5z" fill="#8ea8bd"/></svg>
<div style="position:absolute;left:993px;top:276px;width:44px;height:22px;background:#eff2f6;border-radius:1px"></div>
<div style="position:absolute;left:993.0px;width:44px;text-align:center;top:280.0px;font-size:12px;line-height:1;color:#222;font-weight:bold;white-space:nowrap;">1.55</div>
<div style="position:absolute;left:1041px;top:276px;width:45px;height:22px;background:#eff2f6;border-radius:1px"></div>
<div style="position:absolute;left:1041.0px;width:45px;text-align:center;top:280.0px;font-size:12px;line-height:1;color:#222;font-weight:bold;white-space:nowrap;">2.45</div>
<div style="position:absolute;left:924px;width:200px;text-align:right;top:280.0px;font-size:12px;line-height:1;color:#6089a8;font-weight:normal;white-space:nowrap;">+116</div>
<div style="position:absolute;left:48px;top:303px;width:1086px;height:1px;background:#eceef1;"></div>
<div style="position:absolute;left:74px;top:313.0px;font-size:12px;line-height:1;color:#5282a8;font-weight:normal;white-space:nowrap;border-bottom:1px dashed #56809f;padding-bottom:0px;line-height:12px">Показать еще 6 подсобытий</div>
<div style="position:absolute;left:2px;top:334px;width:1132px;height:24px;background:#dde4e8;"></div>
<div style="position:absolute;left:2px;top:334px;width:1132px;height:2.5px;background:#e5ebee;"></div>
<svg style="position:absolute;left:10.5px;top:338.7px" width="15" height="15" viewBox="0 0 24 24"><path d="M12 2.2l2.95 6.6 7.1.7-5.35 4.75 1.55 7-6.25-3.65-6.25 3.65 1.55-7L1.95 9.5l7.1-.7z" fill="none" stroke="#bdbdbd" stroke-width="2.08" stroke-linejoin="round"/></svg>
<svg style="position:absolute;left:33px;top:338.5px" width="15" height="15" viewBox="0 0 15 15"><rect width="15" height="15" fill="#f4f7fb"/><rect x="0.5" y="1" width="14" height="4.4" fill="#1b4f9e"/><rect x="0.5" y="9.2" width="14" height="5" fill="#174a96"/><rect x="2" y="6.2" width="11" height="2.2" fill="#e0575e"/></svg>
<div style="position:absolute;left:55px;top:341.13px;font-size:11px;line-height:1;color:#333;font-weight:normal;white-space:nowrap;letter-spacing:0.5px">АХЛ</div>
<div style="position:absolute;left:437.0px;width:100px;text-align:center;top:341.13px;font-size:11px;line-height:1;color:#5a5a5a;font-weight:normal;white-space:nowrap;letter-spacing:0.3px">1</div>
<div style="position:absolute;left:485.0px;width:100px;text-align:center;top:341.13px;font-size:11px;line-height:1;color:#5a5a5a;font-weight:normal;white-space:nowrap;letter-spacing:0.3px">X</div>
<div style="position:absolute;left:533.0px;width:100px;text-align:center;top:341.13px;font-size:11px;line-height:1;color:#5a5a5a;font-weight:normal;white-space:nowrap;letter-spacing:0.3px">2</div>
<div style="position:absolute;left:581.0px;width:100px;text-align:center;top:341.13px;font-size:11px;line-height:1;color:#5a5a5a;font-weight:normal;white-space:nowrap;letter-spacing:0.3px">1X</div>
<div style="position:absolute;left:630.0px;width:100px;text-align:center;top:341.13px;font-size:11px;line-height:1;color:#5a5a5a;font-weight:normal;white-space:nowrap;letter-spacing:0.3px">12</div>
<div style="position:absolute;left:678.0px;width:100px;text-align:center;top:341.13px;font-size:11px;line-height:1;color:#5a5a5a;font-weight:normal;white-space:nowrap;letter-spacing:0.3px">X2</div>
<div style="position:absolute;left:752.0px;width:100px;text-align:center;top:341.13px;font-size:11px;line-height:1;color:#5a5a5a;font-weight:normal;white-space:nowrap;letter-spacing:0.3px">ФОРА 1</div>
<div style="position:absolute;left:845.0px;width:100px;text-align:center;top:341.13px;font-size:11px;line-height:1;color:#5a5a5a;font-weight:normal;white-space:nowrap;letter-spacing:0.3px">ФОРА 2</div>
<div style="position:absolute;left:914.0px;width:100px;text-align:center;top:341.13px;font-size:11px;line-height:1;color:#5a5a5a;font-weight:normal;white-space:nowrap;letter-spacing:0.3px">ТОТАЛ</div>
<div style="position:absolute;left:965.0px;width:100px;text-align:center;top:341.13px;font-size:11px;line-height:1;color:#5a5a5a;font-weight:normal;white-space:nowrap;letter-spacing:0.3px">Б</div>
<div style="position:absolute;left:1013.0px;width:100px;text-align:center;top:341.13px;font-size:11px;line-height:1;color:#5a5a5a;font-weight:normal;white-space:nowrap;letter-spacing:0.3px">М</div>
<svg style="position:absolute;left:1103.8px;top:344.5px" width="11" height="6" viewBox="0 0 11 6"><path d="M0.8 5.2L5.5 0.9L10.2 5.2" fill="none" stroke="#b9bcbf" stroke-width="1.7"/></svg>
<svg style="position:absolute;left:11.0px;top:365.9px" width="15.2" height="15.2" viewBox="0 0 24 24"><path d="M12 2.2l2.95 6.6 7.1.7-5.35 4.75 1.55 7-6.25-3.65-6.25 3.65 1.55-7L1.95 9.5l7.1-.7z" fill="none" stroke="#bdbdbd" stroke-width="2.05" stroke-linejoin="round"/></svg>
<svg style="position:absolute;left:34.0px;top:369.8px" width="12" height="6.5" viewBox="0 0 12 6.5"><path d="M0.6 0.6L6.0 5.8L11.4 0.6" fill="none" stroke="#bfc3c7" stroke-width="1.7"/></svg>
<div style="position:absolute;left:55px;top:366.7px;font-size:12px;line-height:1;color:#222;font-weight:normal;white-space:nowrap;">Хендерсон Сильвер Найтс — ...</div>
<div style="position:absolute;right:680px;top:365px;height:16px;display:flex;align-items:center;white-space:nowrap;font-size:12px"><span style="position:relative;display:inline-block;width:15px;height:16px;margin-left:0px"><svg style="position:absolute;left:0px;top:2.5px" width="15" height="11" viewBox="0 0 15 11"><rect x="0.5" y="0.5" width="14" height="8.2" fill="#eef6fc" stroke="#557a9b" stroke-width="1"/><path d="M6 2.4v3.4M8.8 2.4v3.4M5.2 2.9l0.8-0.5M8 2.9l0.8-0.5" stroke="#3d5a72" stroke-width="1"/><rect x="2.2" y="10" width="10.6" height="1" fill="#557a9b"/></svg></span><span style="position:relative;display:inline-block;width:15px;height:16px;margin-left:5px"><svg style="position:absolute;left:0px;top:2.5px" width="15" height="11" viewBox="0 0 15 11"><rect width="15" height="11" fill="#7b8e9c"/><path d="M7.5 0v11" stroke="#f2f4f6" stroke-width="1"/><rect x="2" y="1.6" width="3" height="2.4" fill="#aab8c2"/><rect x="10" y="1.6" width="3" height="2.4" fill="#aab8c2"/><rect x="2" y="7" width="3" height="2.4" fill="#aab8c2"/><rect x="10" y="7" width="3" height="2.4" fill="#aab8c2"/><path d="M0 5.5h15" stroke="#9aaab6" stroke-width="0.8"/></svg></span><span style="position:relative;display:inline-block;width:15px;height:16px;margin-left:5px"><svg style="position:absolute;left:0px;top:2.5px" width="15" height="11" viewBox="0 0 15 11"><rect x="5.5" y="0.5" width="4" height="10" fill="#dbe9f3"/><path d="M0.5 10.5V5.5h3.2v5M3.7 8h2M5.5 10.5V0.5h4v10M9.5 2.5h5v8M0 10.5h15" fill="none" stroke="#557a9b" stroke-width="1"/></svg></span><span style="display:inline-block;margin-left:5px;width:25px;height:14px;background:#8b8b8b;color:#f6f6ee;font-size:11px;font-weight:normal;line-height:14px;text-align:center;">5X4</span><span style="position:relative;display:inline-block;width:11px;height:16px;margin-left:5px"><svg style="position:absolute;left:0px;top:2.5px" width="11" height="11" viewBox="0 0 11 11"><circle cx="5.5" cy="5.5" r="4.9" fill="#fff" stroke="#bdbdbd" stroke-width="1.1"/><path d="M4.9 2.5A3.1 3.1 0 1 0 8.3 6.6L5.3 5.9z" fill="#bdbdbd"/></svg></span><span style="color:#9a9a9a;font-weight:normal;margin-left:4.8px;letter-spacing:0.2px">40:00</span><span style="color:#2b5b82;font-weight:bold;margin-left:5px;letter-spacing:0px">1:1</span><span style="color:#3f6e93;font-weight:normal;margin-left:10px;letter-spacing:0px">(1-1 0-0)</span></div>
<div style="position:absolute;left:465px;top:362px;width:44px;height:22px;background:#eff2f6;border-radius:1px"></div>
<div style="position:absolute;left:465.0px;width:44px;text-align:center;top:366.0px;font-size:12px;line-height:1;color:#222;font-weight:bold;white-space:nowrap;">2.65</div>
<div style="position:absolute;left:513px;top:362px;width:44px;height:22px;background:#eff2f6;border-radius:1px"></div>
<div style="position:absolute;left:513.0px;width:44px;text-align:center;top:366.0px;font-size:12px;line-height:1;color:#222;font-weight:bold;white-space:nowrap;">2.90</div>
<div style="position:absolute;left:561px;top:362px;width:44px;height:22px;background:#eff2f6;border-radius:1px"></div>
<div style="position:absolute;left:561.0px;width:44px;text-align:center;top:366.0px;font-size:12px;line-height:1;color:#222;font-weight:bold;white-space:nowrap;">2.90</div>
<div style="position:absolute;left:610px;top:362px;width:44px;height:22px;background:#eff2f6;border-radius:1px"></div>
<div style="position:absolute;left:610.0px;width:44px;text-align:center;top:366.0px;font-size:12px;line-height:1;color:#222;font-weight:bold;white-space:nowrap;">1.40</div>
<div style="position:absolute;left:658px;top:362px;width:44px;height:22px;background:#eff2f6;border-radius:1px"></div>
<div style="position:absolute;left:658.0px;width:44px;text-align:center;top:366.0px;font-size:12px;line-height:1;color:#222;font-weight:bold;white-space:nowrap;">1.40</div>
<div style="position:absolute;left:706px;top:362px;width:44px;height:22px;background:#eff2f6;border-radius:1px"></div>
<div style="position:absolute;left:706.0px;width:44px;text-align:center;top:366.0px;font-size:12px;line-height:1;color:#222;font-weight:bold;white-space:nowrap;">1.45</div>
<div style="position:absolute;left:755px;top:362px;width:42px;height:22px;background:#f9fafc;box-sizing:border-box;border:1px solid #eef0f3;border-right:none"></div>
<div style="position:absolute;left:591px;width:200px;text-align:right;top:366.0px;font-size:12px;line-height:1;color:#56778f;font-weight:normal;white-space:nowrap;">-1.5</div>
<div style="position:absolute;left:797px;top:362px;width:37px;height:22px;background:#eff2f6;border-radius:1px"></div>
<div style="position:absolute;left:797.0px;width:37px;text-align:center;top:366.0px;font-size:12px;line-height:1;color:#222;font-weight:bold;white-space:nowrap;">4.90</div>
<svg style="position:absolute;left:840.5px;top:367.5px" width="9" height="12" viewBox="0 0 9 12"><path d="M4.5 0.5L8.5 5H0.5z M4.5 11.5L8.5 7H0.5z" fill="#8ea8bd"/></svg>
<div style="position:absolute;left:855px;top:362px;width:43px;height:22px;background:#f9fafc;box-sizing:border-box;border:1px solid #eef0f3;border-right:none"></div>
<div style="position:absolute;left:692px;width:200px;text-align:right;top:366.0px;font-size:12px;line-height:1;color:#56778f;font-weight:normal;white-space:nowrap;">+1.5</div>
<div style="position:absolute;left:898px;top:362px;width:37px;height:22px;background:#eff2f6;border-radius:1px"></div>
<div style="position:absolute;left:898.0px;width:37px;text-align:center;top:366.0px;font-size:12px;line-height:1;color:#222;font-weight:bold;white-space:nowrap;">1.16</div>
<div style="position:absolute;left:775px;width:200px;text-align:right;top:366.0px;font-size:12px;line-height:1;color:#4f7c9f;font-weight:normal;white-space:nowrap;">4.5</div>
<svg style="position:absolute;left:976.0px;top:367.5px" width="9" height="12" viewBox="0 0 9 12"><path d="M4.5 0.5L8.5 5H0.5z M4.5 11.5L8.5 7H0.5z" fill="#8ea8bd"/></svg>
<div style="position:absolute;left:993px;top:362px;width:44px;height:22px;background:#eff2f6;border-radius:1px"></div>
<div style="position:absolute;left:993.0px;width:44px;text-align:center;top:366.0px;font-size:12px;line-height:1;color:#222;font-weight:bold;white-space:nowrap;">2.55</div>
<div style="position:absolute;left:1041px;top:362px;width:45px;height:22px;background:#eff2f6;border-radius:1px"></div>
<div style="position:absolute;left:1041.0px;width:45px;text-align:center;top:366.0px;font-size:12px;line-height:1;color:#222;font-weight:bold;white-space:nowrap;">1.48</div>
<div style="position:absolute;left:924px;width:200px;text-align:right;top:366.0px;font-size:12px;line-height:1;color:#6089a8;font-weight:normal;white-space:nowrap;">+141</div>
<div style="position:absolute;left:48px;top:388px;width:1086px;height:1px;background:#eceef1;"></div>
<div style="position:absolute;left:74px;top:398.0px;font-size:12px;line-height:1;color:#5282a8;font-weight:normal;white-space:nowrap;border-bottom:1px dashed #56809f;padding-bottom:0px;line-height:12px">Показать еще 2 подсобытия</div>
<div style="position:absolute;left:2px;top:418px;width:1132px;height:24px;background:#dde4e8;"></div>
<div style="position:absolute;left:2px;top:418px;width:1132px;height:2.5px;background:#e5ebee;"></div>
<svg style="position:absolute;left:10.5px;top:422.7px" width="15" height="15" viewBox="0 0 24 24"><path d="M12 2.2l2.95 6.6 7.1.7-5.35 4.75 1.55 7-6.25-3.65-6.25 3.65 1.55-7L1.95 9.5l7.1-.7z" fill="none" stroke="#bdbdbd" stroke-width="2.08" stroke-linejoin="round"/></svg>
<svg style="position:absolute;left:33px;top:421.7px" width="15" height="15" viewBox="0 0 15 15"><rect x="0.3" y="0.5" width="14.4" height="14.3" fill="#241214"/><ellipse cx="5.2" cy="5.2" rx="2.6" ry="2.2" fill="#e0474c"/><path d="M8.5 2.5l5 1.5-1 4-3.5-1z" fill="#e8b7c2"/><path d="M1.2 9.5l12.5-3.2v2.2L1.2 12.6z" fill="#f3e3e6"/><path d="M6 12.5l7.5-2.5v2.4l-6.5 1.4z" fill="#a8707a"/></svg>
<div style="position:absolute;left:55px;top:425.13px;font-size:11px;line-height:1;color:#333;font-weight:normal;white-space:nowrap;letter-spacing:0.5px">WHL. ЗАПАДНАЯ ЛИГА. КАНАДА</div>
<div style="position:absolute;left:437.0px;width:100px;text-align:center;top:425.13px;font-size:11px;line-height:1;color:#5a5a5a;font-weight:normal;white-space:nowrap;letter-spacing:0.3px">1</div>
<div style="position:absolute;left:485.0px;width:100px;text-align:center;top:425.13px;font-size:11px;line-height:1;color:#5a5a5a;font-weight:normal;white-space:nowrap;letter-spacing:0.3px">X</div>
<div style="position:absolute;left:533.0px;width:100px;text-align:center;top:425.13px;font-size:11px;line-height:1;color:#5a5a5a;font-weight:normal;white-space:nowrap;letter-spacing:0.3px">2</div>
<div style="position:absolute;left:581.0px;width:100px;text-align:center;top:425.13px;font-size:11px;line-height:1;color:#5a5a5a;font-weight:normal;white-space:nowrap;letter-spacing:0.3px">1X</div>
<div style="position:absolute;left:630.0px;width:100px;text-align:center;top:425.13px;font-size:11px;line-height:1;color:#5a5a5a;font-weight:normal;white-space:nowrap;letter-spacing:0.3px">12</div>
<div style="position:absolute;left:678.0px;width:100px;text-align:center;top:425.13px;font-size:11px;line-height:1;color:#5a5a5a;font-weight:normal;white-space:nowrap;letter-spacing:0.3px">X2</div>
<div style="position:absolute;left:752.0px;width:100px;text-align:center;top:425.13px;font-size:11px;line-height:1;color:#5a5a5a;font-weight:normal;white-space:nowrap;letter-spacing:0.3px">ФОРА 1</div>
<div style="position:absolute;left:845.0px;width:100px;text-align:center;top:425.13px;font-size:11px;line-height:1;color:#5a5a5a;font-weight:normal;white-space:nowrap;letter-spacing:0.3px">ФОРА 2</div>
<div style="position:absolute;left:914.0px;width:100px;text-align:center;top:425.13px;font-size:11px;line-height:1;color:#5a5a5a;font-weight:normal;white-space:nowrap;letter-spacing:0.3px">ТОТАЛ</div>
<div style="position:absolute;left:965.0px;width:100px;text-align:center;top:425.13px;font-size:11px;line-height:1;color:#5a5a5a;font-weight:normal;white-space:nowrap;letter-spacing:0.3px">Б</div>
<div style="position:absolute;left:1013.0px;width:100px;text-align:center;top:425.13px;font-size:11px;line-height:1;color:#5a5a5a;font-weight:normal;white-space:nowrap;letter-spacing:0.3px">М</div>
<svg style="position:absolute;left:1103.8px;top:428.5px" width="11" height="6" viewBox="0 0 11 6"><path d="M0.8 5.2L5.5 0.9L10.2 5.2" fill="none" stroke="#b9bcbf" stroke-width="1.7"/></svg>
<svg style="position:absolute;left:11.0px;top:449.9px" width="15.2" height="15.2" viewBox="0 0 24 24"><path d="M12 2.2l2.95 6.6 7.1.7-5.35 4.75 1.55 7-6.25-3.65-6.25 3.65 1.55-7L1.95 9.5l7.1-.7z" fill="none" stroke="#bdbdbd" stroke-width="2.05" stroke-linejoin="round"/></svg>
<div style="position:absolute;left:55px;top:450.7px;font-size:12px;line-height:1;color:#222;font-weight:normal;white-space:nowrap;">Эверетт Сильвертип — Спокан Чифс</div>
<div style="position:absolute;right:680px;top:449px;height:16px;display:flex;align-items:center;white-space:nowrap;font-size:12px"><span style="position:relative;display:inline-block;width:15px;height:16px;margin-left:0px"><svg style="position:absolute;left:0px;top:2.5px" width="15" height="11" viewBox="0 0 15 11"><rect x="5.5" y="0.5" width="4" height="10" fill="#dbe9f3"/><path d="M0.5 10.5V5.5h3.2v5M3.7 8h2M5.5 10.5V0.5h4v10M9.5 2.5h5v8M0 10.5h15" fill="none" stroke="#557a9b" stroke-width="1"/></svg></span><span style="display:inline-block;margin-left:5px;width:25px;height:14px;background:#8b8b8b;color:#f6f6ee;font-size:11px;font-weight:normal;line-height:14px;text-align:center;">4X5</span><span style="position:relative;display:inline-block;width:11px;height:16px;margin-left:5px"><svg style="position:absolute;left:0px;top:2.5px" width="11" height="11" viewBox="0 0 11 11"><circle cx="5.5" cy="5.5" r="4.9" fill="#fff" stroke="#6cbf4a" stroke-width="1.1"/><path d="M4.9 2.5A3.1 3.1 0 1 0 8.3 6.6L5.3 5.9z" fill="#6cbf4a"/></svg></span><span style="color:#9a9a9a;font-weight:normal;margin-left:4.8px;letter-spacing:0.2px">46:36</span><span style="color:#2b5b82;font-weight:bold;margin-left:5px;letter-spacing:0px">5:2</span><span style="color:#3f6e93;font-weight:normal;margin-left:10px;letter-spacing:0px">(2-1 3-1 )</span></div>
<div style="position:absolute;left:465px;top:446px;width:44px;height:22px;background:#f8f9fb;border-radius:1px"></div>
<div style="position:absolute;left:465.0px;width:44px;text-align:center;top:451.14px;font-size:12px;line-height:1;color:#b3b7bb;font-weight:normal;white-space:nowrap;">-</div>
<div style="position:absolute;left:513px;top:446px;width:44px;height:22px;background:#f8f9fb;border-radius:1px"></div>
<div style="position:absolute;left:513.0px;width:44px;text-align:center;top:451.14px;font-size:12px;line-height:1;color:#b3b7bb;font-weight:normal;white-space:nowrap;">-</div>
<div style="position:absolute;left:561px;top:446px;width:44px;height:22px;background:#f8f9fb;border-radius:1px"></div>
<div style="position:absolute;left:561.0px;width:44px;text-align:center;top:451.14px;font-size:12px;line-height:1;color:#b3b7bb;font-weight:normal;white-space:nowrap;">-</div>
<div style="position:absolute;left:610px;top:446px;width:44px;height:22px;background:#f8f9fb;border-radius:1px"></div>
<div style="position:absolute;left:610.0px;width:44px;text-align:center;top:451.14px;font-size:12px;line-height:1;color:#b3b7bb;font-weight:normal;white-space:nowrap;">-</div>
<div style="position:absolute;left:658px;top:446px;width:44px;height:22px;background:#f8f9fb;border-radius:1px"></div>
<div style="position:absolute;left:658.0px;width:44px;text-align:center;top:451.14px;font-size:12px;line-height:1;color:#b3b7bb;font-weight:normal;white-space:nowrap;">-</div>
<div style="position:absolute;left:706px;top:446px;width:44px;height:22px;background:#f8f9fb;border-radius:1px"></div>
<div style="position:absolute;left:706.0px;width:44px;text-align:center;top:451.14px;font-size:12px;line-height:1;color:#b3b7bb;font-weight:normal;white-space:nowrap;">-</div>
<div style="position:absolute;left:755px;top:446px;width:42px;height:22px;background:#f9fafc;box-sizing:border-box;border:1px solid #eef0f3;border-right:none"></div>
<div style="position:absolute;left:591px;width:200px;text-align:right;top:450.0px;font-size:12px;line-height:1;color:#56778f;font-weight:normal;white-space:nowrap;">-3.5</div>
<div style="position:absolute;left:797px;top:446px;width:37px;height:22px;background:#dca3a5;border-radius:1px"></div>
<div style="position:absolute;left:829px;top:463px;width:0;height:0;border-left:5px solid transparent;border-bottom:5px solid #c0272d"></div>
<div style="position:absolute;left:797.0px;width:37px;text-align:center;top:450.0px;font-size:12px;line-height:1;color:#222;font-weight:bold;white-space:nowrap;">1.92</div>
<svg style="position:absolute;left:840.5px;top:451.5px" width="9" height="12" viewBox="0 0 9 12"><path d="M4.5 0.5L8.5 5H0.5z M4.5 11.5L8.5 7H0.5z" fill="#8ea8bd"/></svg>
<div style="position:absolute;left:855px;top:446px;width:43px;height:22px;background:#f9fafc;box-sizing:border-box;border:1px solid #eef0f3;border-right:none"></div>
<div style="position:absolute;left:692px;width:200px;text-align:right;top:450.0px;font-size:12px;line-height:1;color:#56778f;font-weight:normal;white-space:nowrap;">+3.5</div>
<div style="position:absolute;left:898px;top:446px;width:37px;height:22px;background:#d5e2b4;border-radius:1px"></div>
<div style="position:absolute;left:930px;top:446px;width:0;height:0;border-left:5px solid transparent;border-top:5px solid #4a8a2a"></div>
<div style="position:absolute;left:898.0px;width:37px;text-align:center;top:450.0px;font-size:12px;line-height:1;color:#222;font-weight:bold;white-space:nowrap;">1.78</div>
<div style="position:absolute;left:775px;width:200px;text-align:right;top:450.0px;font-size:12px;line-height:1;color:#4f7c9f;font-weight:normal;white-space:nowrap;">8.5</div>
<svg style="position:absolute;left:976.0px;top:451.5px" width="9" height="12" viewBox="0 0 9 12"><path d="M4.5 0.5L8.5 5H0.5z M4.5 11.5L8.5 7H0.5z" fill="#8ea8bd"/></svg>
<div style="position:absolute;left:993px;top:446px;width:44px;height:22px;background:#d5e2b4;border-radius:1px"></div>
<div style="position:absolute;left:1032px;top:446px;width:0;height:0;border-left:5px solid transparent;border-top:5px solid #4a8a2a"></div>
<div style="position:absolute;left:993.0px;width:44px;text-align:center;top:450.0px;font-size:12px;line-height:1;color:#222;font-weight:bold;white-space:nowrap;">1.82</div>
<div style="position:absolute;left:1041px;top:446px;width:45px;height:22px;background:#dca3a5;border-radius:1px"></div>
<div style="position:absolute;left:1081px;top:463px;width:0;height:0;border-left:5px solid transparent;border-bottom:5px solid #c0272d"></div>
<div style="position:absolute;left:1041.0px;width:45px;text-align:center;top:450.0px;font-size:12px;line-height:1;color:#222;font-weight:bold;white-space:nowrap;">1.88</div>
<div style="position:absolute;left:924px;width:200px;text-align:right;top:450.0px;font-size:12px;line-height:1;color:#6089a8;font-weight:normal;white-space:nowrap;">+74</div>
<div style="position:absolute;left:2px;top:472px;width:1132px;height:23.5px;background:#dde4e8;"></div>
<div style="position:absolute;left:2px;top:472px;width:1132px;height:2.5px;background:#e5ebee;"></div>
<svg style="position:absolute;left:10.5px;top:476.4px" width="15" height="15" viewBox="0 0 24 24"><path d="M12 2.2l2.95 6.6 7.1.7-5.35 4.75 1.55 7-6.25-3.65-6.25 3.65 1.55-7L1.95 9.5l7.1-.7z" fill="none" stroke="#bdbdbd" stroke-width="2.08" stroke-linejoin="round"/></svg>
<svg style="position:absolute;left:33px;top:478.25px" width="15" height="11" viewBox="0 0 15 11"><rect width="15" height="11" fill="#8b959d"/><circle cx="7.5" cy="5.5" r="4" fill="#c9d0d5"/><path d="M3.5 5.5h8M7.5 1.5v8M4.6 3.2h5.8M4.6 7.8h5.8" stroke="#8b959d" stroke-width="0.8"/><ellipse cx="7.5" cy="5.5" rx="1.8" ry="4" fill="none" stroke="#8b959d" stroke-width="0.8"/></svg>
<div style="position:absolute;left:55px;top:478.88px;font-size:11px;line-height:1;color:#333;font-weight:normal;white-space:nowrap;letter-spacing:0.5px">PJHL. КАНАДА</div>
<div style="position:absolute;left:437.0px;width:100px;text-align:center;top:478.88px;font-size:11px;line-height:1;color:#5a5a5a;font-weight:normal;white-space:nowrap;letter-spacing:0.3px">1</div>
<div style="position:absolute;left:485.0px;width:100px;text-align:center;top:478.88px;font-size:11px;line-height:1;color:#5a5a5a;font-weight:normal;white-space:nowrap;letter-spacing:0.3px">X</div>
<div style="position:absolute;left:533.0px;width:100px;text-align:center;top:478.88px;font-size:11px;line-height:1;color:#5a5a5a;font-weight:normal;white-space:nowrap;letter-spacing:0.3px">2</div>
<div style="position:absolute;left:581.0px;width:100px;text-align:center;top:478.88px;font-size:11px;line-height:1;color:#5a5a5a;font-weight:normal;white-space:nowrap;letter-spacing:0.3px">1X</div>
<div style="position:absolute;left:630.0px;width:100px;text-align:center;top:478.88px;font-size:11px;line-height:1;color:#5a5a5a;font-weight:normal;white-space:nowrap;letter-spacing:0.3px">12</div>
<div style="position:absolute;left:678.0px;width:100px;text-align:center;top:478.88px;font-size:11px;line-height:1;color:#5a5a5a;font-weight:normal;white-space:nowrap;letter-spacing:0.3px">X2</div>
<div style="position:absolute;left:752.0px;width:100px;text-align:center;top:478.88px;font-size:11px;line-height:1;color:#5a5a5a;font-weight:normal;white-space:nowrap;letter-spacing:0.3px">ФОРА 1</div>
<div style="position:absolute;left:845.0px;width:100px;text-align:center;top:478.88px;font-size:11px;line-height:1;color:#5a5a5a;font-weight:normal;white-space:nowrap;letter-spacing:0.3px">ФОРА 2</div>
<div style="position:absolute;left:914.0px;width:100px;text-align:center;top:478.88px;font-size:11px;line-height:1;color:#5a5a5a;font-weight:normal;white-space:nowrap;letter-spacing:0.3px">ТОТАЛ</div>
<div style="position:absolute;left:965.0px;width:100px;text-align:center;top:478.88px;font-size:11px;line-height:1;color:#5a5a5a;font-weight:normal;white-space:nowrap;letter-spacing:0.3px">Б</div>
<div style="position:absolute;left:1013.0px;width:100px;text-align:center;top:478.88px;font-size:11px;line-height:1;color:#5a5a5a;font-weight:normal;white-space:nowrap;letter-spacing:0.3px">М</div>
<svg style="position:absolute;left:1103.8px;top:482.2px" width="11" height="6" viewBox="0 0 11 6"><path d="M0.8 5.2L5.5 0.9L10.2 5.2" fill="none" stroke="#b9bcbf" stroke-width="1.7"/></svg>
<svg style="position:absolute;left:11.0px;top:503.4px" width="15.2" height="15.2" viewBox="0 0 24 24"><path d="M12 2.2l2.95 6.6 7.1.7-5.35 4.75 1.55 7-6.25-3.65-6.25 3.65 1.55-7L1.95 9.5l7.1-.7z" fill="none" stroke="#bdbdbd" stroke-width="2.05" stroke-linejoin="round"/></svg>
<svg style="position:absolute;left:34.0px;top:507.2px" width="12" height="6.5" viewBox="0 0 12 6.5"><path d="M0.6 0.6L6.0 5.8L11.4 0.6" fill="none" stroke="#bfc3c7" stroke-width="1.7"/></svg>
<div style="position:absolute;left:55px;top:504.2px;font-size:12px;line-height:1;color:#222;font-weight:normal;white-space:nowrap;">Чилливак Джетс — Абботсфорд Пилотс</div>
<div style="position:absolute;right:680px;top:502.5px;height:16px;display:flex;align-items:center;white-space:nowrap;font-size:12px"><span style="position:relative;display:inline-block;width:15px;height:16px;margin-left:0px"><svg style="position:absolute;left:0px;top:2.5px" width="15" height="11" viewBox="0 0 15 11"><rect x="5.5" y="0.5" width="4" height="10" fill="#dbe9f3"/><path d="M0.5 10.5V5.5h3.2v5M3.7 8h2M5.5 10.5V0.5h4v10M9.5 2.5h5v8M0 10.5h15" fill="none" stroke="#557a9b" stroke-width="1"/></svg></span><span style="position:relative;display:inline-block;width:11px;height:16px;margin-left:5px"><svg style="position:absolute;left:0px;top:2.5px" width="11" height="11" viewBox="0 0 11 11"><circle cx="5.5" cy="5.5" r="4.9" fill="#fff" stroke="#6cbf4a" stroke-width="1.1"/><path d="M4.9 2.5A3.1 3.1 0 1 0 8.3 6.6L5.3 5.9z" fill="#6cbf4a"/></svg></span><span style="color:#9a9a9a;font-weight:normal;margin-left:4.8px;letter-spacing:0.2px">21:58</span><span style="color:#2b5b82;font-weight:bold;margin-left:5px;letter-spacing:0px">3:0</span><span style="color:#3f6e93;font-weight:normal;margin-left:10px;letter-spacing:0px">(3-0 )</span></div>
<div style="position:absolute;left:465px;top:499.5px;width:44px;height:22px;background:#f8f9fb;border-radius:1px"></div>
<div style="position:absolute;left:465.0px;width:44px;text-align:center;top:504.64px;font-size:12px;line-height:1;color:#b3b7bb;font-weight:normal;white-space:nowrap;">-</div>
<div style="position:absolute;left:513px;top:499.5px;width:44px;height:22px;background:#f8f9fb;border-radius:1px"></div>
<div style="position:absolute;left:513.0px;width:44px;text-align:center;top:504.64px;font-size:12px;line-height:1;color:#b3b7bb;font-weight:normal;white-space:nowrap;">-</div>
<div style="position:absolute;left:561px;top:499.5px;width:44px;height:22px;background:#f8f9fb;border-radius:1px"></div>
<div style="position:absolute;left:561.0px;width:44px;text-align:center;top:504.64px;font-size:12px;line-height:1;color:#b3b7bb;font-weight:normal;white-space:nowrap;">-</div>
<div style="position:absolute;left:610px;top:499.5px;width:44px;height:22px;background:#f8f9fb;border-radius:1px"></div>
<div style="position:absolute;left:610.0px;width:44px;text-align:center;top:504.64px;font-size:12px;line-height:1;color:#b3b7bb;font-weight:normal;white-space:nowrap;">-</div>
<div style="position:absolute;left:658px;top:499.5px;width:44px;height:22px;background:#f8f9fb;border-radius:1px"></div>
<div style="position:absolute;left:658.0px;width:44px;text-align:center;top:504.64px;font-size:12px;line-height:1;color:#b3b7bb;font-weight:normal;white-space:nowrap;">-</div>
<div style="position:absolute;left:706px;top:499.5px;width:44px;height:22px;background:#f8f9fb;border-radius:1px"></div>
<div style="position:absolute;left:706.0px;width:44px;text-align:center;top:504.64px;font-size:12px;line-height:1;color:#b3b7bb;font-weight:normal;white-space:nowrap;">-</div>
<div style="position:absolute;left:755px;top:499.5px;width:42px;height:22px;background:#f9fafc;box-sizing:border-box;border:1px solid #eef0f3;border-right:none"></div>
<div style="position:absolute;left:591px;width:200px;text-align:right;top:503.5px;font-size:12px;line-height:1;color:#56778f;font-weight:normal;white-space:nowrap;">-5.5</div>
<div style="position:absolute;left:797px;top:499.5px;width:37px;height:22px;background:#eff2f6;border-radius:1px"></div>
<div style="position:absolute;left:797.0px;width:37px;text-align:center;top:503.5px;font-size:12px;line-height:1;color:#222;font-weight:bold;white-space:nowrap;">2.10</div>
<svg style="position:absolute;left:840.5px;top:505.0px" width="9" height="12" viewBox="0 0 9 12"><path d="M4.5 0.5L8.5 5H0.5z M4.5 11.5L8.5 7H0.5z" fill="#8ea8bd"/></svg>
<div style="position:absolute;left:855px;top:499.5px;width:43px;height:22px;background:#f9fafc;box-sizing:border-box;border:1px solid #eef0f3;border-right:none"></div>
<div style="position:absolute;left:692px;width:200px;text-align:right;top:503.5px;font-size:12px;line-height:1;color:#56778f;font-weight:normal;white-space:nowrap;">+5.5</div>
<div style="position:absolute;left:898px;top:499.5px;width:37px;height:22px;background:#eff2f6;border-radius:1px"></div>
<div style="position:absolute;left:898.0px;width:37px;text-align:center;top:503.5px;font-size:12px;line-height:1;color:#222;font-weight:bold;white-space:nowrap;">1.65</div>
<div style="position:absolute;left:775px;width:200px;text-align:right;top:503.5px;font-size:12px;line-height:1;color:#4f7c9f;font-weight:normal;white-space:nowrap;">8.5</div>
<svg style="position:absolute;left:976.0px;top:505.0px" width="9" height="12" viewBox="0 0 9 12"><path d="M4.5 0.5L8.5 5H0.5z M4.5 11.5L8.5 7H0.5z" fill="#8ea8bd"/></svg>
<div style="position:absolute;left:993px;top:499.5px;width:44px;height:22px;background:#eff2f6;border-radius:1px"></div>
<div style="position:absolute;left:993.0px;width:44px;text-align:center;top:503.5px;font-size:12px;line-height:1;color:#222;font-weight:bold;white-space:nowrap;">2.00</div>
<div style="position:absolute;left:1041px;top:499.5px;width:45px;height:22px;background:#eff2f6;border-radius:1px"></div>
<div style="position:absolute;left:1041.0px;width:45px;text-align:center;top:503.5px;font-size:12px;line-height:1;color:#222;font-weight:bold;white-space:nowrap;">1.72</div>
<div style="position:absolute;left:924px;width:200px;text-align:right;top:503.5px;font-size:12px;line-height:1;color:#6089a8;font-weight:normal;white-space:nowrap;">+56</div>
<div style="position:absolute;left:48px;top:526px;width:1086px;height:1px;background:#eceef1;"></div>
<div style="position:absolute;left:74px;top:536.0px;font-size:12px;line-height:1;color:#3d6f98;font-weight:normal;white-space:nowrap;">2-й период</div>
<div style="position:absolute;left:258px;width:200px;text-align:right;top:536.0px;font-size:12px;line-height:1;color:#2b5b82;font-weight:bold;white-space:nowrap;">0:0</div>
<div style="position:absolute;left:465px;top:530px;width:44px;height:22px;background:#eff2f6;border-radius:1px"></div>
<div style="position:absolute;left:465.0px;width:44px;text-align:center;top:534.0px;font-size:12px;line-height:1;color:#222;font-weight:bold;white-space:nowrap;">1.45</div>
<div style="position:absolute;left:513px;top:530px;width:44px;height:22px;background:#eff2f6;border-radius:1px"></div>
<div style="position:absolute;left:513.0px;width:44px;text-align:center;top:534.0px;font-size:12px;line-height:1;color:#222;font-weight:bold;white-space:nowrap;">4.30</div>
<div style="position:absolute;left:561px;top:530px;width:44px;height:22px;background:#eff2f6;border-radius:1px"></div>
<div style="position:absolute;left:561.0px;width:44px;text-align:center;top:534.0px;font-size:12px;line-height:1;color:#222;font-weight:bold;white-space:nowrap;">6.10</div>
<div style="position:absolute;left:610px;top:530px;width:44px;height:22px;background:#eff2f6;border-radius:1px"></div>
<div style="position:absolute;left:610.0px;width:44px;text-align:center;top:534.0px;font-size:12px;line-height:1;color:#222;font-weight:bold;white-space:nowrap;">1.09</div>
<div style="position:absolute;left:658px;top:530px;width:44px;height:22px;background:#eff2f6;border-radius:1px"></div>
<div style="position:absolute;left:658.0px;width:44px;text-align:center;top:534.0px;font-size:12px;line-height:1;color:#222;font-weight:bold;white-space:nowrap;">1.18</div>
<div style="position:absolute;left:706px;top:530px;width:44px;height:22px;background:#eff2f6;border-radius:1px"></div>
<div style="position:absolute;left:706.0px;width:44px;text-align:center;top:534.0px;font-size:12px;line-height:1;color:#222;font-weight:bold;white-space:nowrap;">2.55</div>
<div style="position:absolute;left:755px;top:530px;width:42px;height:22px;background:#f9fafc;box-sizing:border-box;border:1px solid #eef0f3;border-right:none"></div>
<div style="position:absolute;left:591px;width:200px;text-align:right;top:534.0px;font-size:12px;line-height:1;color:#56778f;font-weight:normal;white-space:nowrap;">-1.5</div>
<div style="position:absolute;left:797px;top:530px;width:37px;height:22px;background:#eff2f6;border-radius:1px"></div>
<div style="position:absolute;left:797.0px;width:37px;text-align:center;top:534.0px;font-size:12px;line-height:1;color:#222;font-weight:bold;white-space:nowrap;">2.40</div>
<svg style="position:absolute;left:840.5px;top:535.5px" width="9" height="12" viewBox="0 0 9 12"><path d="M4.5 0.5L8.5 5H0.5z M4.5 11.5L8.5 7H0.5z" fill="#8ea8bd"/></svg>
<div style="position:absolute;left:855px;top:530px;width:43px;height:22px;background:#f9fafc;box-sizing:border-box;border:1px solid #eef0f3;border-right:none"></div>
<div style="position:absolute;left:692px;width:200px;text-align:right;top:534.0px;font-size:12px;line-height:1;color:#56778f;font-weight:normal;white-space:nowrap;">+1.5</div>
<div style="position:absolute;left:898px;top:530px;width:37px;height:22px;background:#eff2f6;border-radius:1px"></div>
<div style="position:absolute;left:898.0px;width:37px;text-align:center;top:534.0px;font-size:12px;line-height:1;color:#222;font-weight:bold;white-space:nowrap;">1.50</div>
<div style="position:absolute;left:775px;width:200px;text-align:right;top:534.0px;font-size:12px;line-height:1;color:#4f7c9f;font-weight:normal;white-space:nowrap;">2.5</div>
<svg style="position:absolute;left:976.0px;top:535.5px" width="9" height="12" viewBox="0 0 9 12"><path d="M4.5 0.5L8.5 5H0.5z M4.5 11.5L8.5 7H0.5z" fill="#8ea8bd"/></svg>
<div style="position:absolute;left:993px;top:530px;width:44px;height:22px;background:#eff2f6;border-radius:1px"></div>
<div style="position:absolute;left:993.0px;width:44px;text-align:center;top:534.0px;font-size:12px;line-height:1;color:#222;font-weight:bold;white-space:nowrap;">1.75</div>
<div style="position:absolute;left:1041px;top:530px;width:45px;height:22px;background:#eff2f6;border-radius:1px"></div>
<div style="position:absolute;left:1041.0px;width:45px;text-align:center;top:534.0px;font-size:12px;line-height:1;color:#222;font-weight:bold;white-space:nowrap;">1.95</div>
<div style="position:absolute;left:924px;width:200px;text-align:right;top:534.0px;font-size:12px;line-height:1;color:#6089a8;font-weight:normal;white-space:nowrap;">+50</div>
<div style="position:absolute;left:48px;top:557.3px;width:1086px;height:1px;background:#eceef1;"></div>
<div style="position:absolute;left:74px;top:567.3px;font-size:12px;line-height:1;color:#3d6f98;font-weight:normal;white-space:nowrap;">3-й период</div>
<div style="position:absolute;left:258px;width:200px;text-align:right;top:567.3px;font-size:12px;line-height:1;color:#2b5b82;font-weight:bold;white-space:nowrap;">0:0</div>
<div style="position:absolute;left:465px;top:561.3px;width:44px;height:22px;background:#eff2f6;border-radius:1px"></div>
<div style="position:absolute;left:465.0px;width:44px;text-align:center;top:565.3px;font-size:12px;line-height:1;color:#222;font-weight:bold;white-space:nowrap;">1.47</div>
<div style="position:absolute;left:513px;top:561.3px;width:44px;height:22px;background:#eff2f6;border-radius:1px"></div>
<div style="position:absolute;left:513.0px;width:44px;text-align:center;top:565.3px;font-size:12px;line-height:1;color:#222;font-weight:bold;white-space:nowrap;">4.30</div>
<div style="position:absolute;left:561px;top:561.3px;width:44px;height:22px;background:#eff2f6;border-radius:1px"></div>
<div style="position:absolute;left:561.0px;width:44px;text-align:center;top:565.3px;font-size:12px;line-height:1;color:#222;font-weight:bold;white-space:nowrap;">5.90</div>
<div style="position:absolute;left:610px;top:561.3px;width:44px;height:22px;background:#eff2f6;border-radius:1px"></div>
<div style="position:absolute;left:610.0px;width:44px;text-align:center;top:565.3px;font-size:12px;line-height:1;color:#222;font-weight:bold;white-space:nowrap;">1.10</div>
<div style="position:absolute;left:658px;top:561.3px;width:44px;height:22px;background:#eff2f6;border-radius:1px"></div>
<div style="position:absolute;left:658.0px;width:44px;text-align:center;top:565.3px;font-size:12px;line-height:1;color:#222;font-weight:bold;white-space:nowrap;">1.18</div>
<div style="position:absolute;left:706px;top:561.3px;width:44px;height:22px;background:#eff2f6;border-radius:1px"></div>
<div style="position:absolute;left:706.0px;width:44px;text-align:center;top:565.3px;font-size:12px;line-height:1;color:#222;font-weight:bold;white-space:nowrap;">2.50</div>
<div style="position:absolute;left:755px;top:561.3px;width:42px;height:22px;background:#f9fafc;box-sizing:border-box;border:1px solid #eef0f3;border-right:none"></div>
<div style="position:absolute;left:591px;width:200px;text-align:right;top:565.3px;font-size:12px;line-height:1;color:#56778f;font-weight:normal;white-space:nowrap;">-1.5</div>
<div style="position:absolute;left:797px;top:561.3px;width:37px;height:22px;background:#eff2f6;border-radius:1px"></div>
<div style="position:absolute;left:797.0px;width:37px;text-align:center;top:565.3px;font-size:12px;line-height:1;color:#222;font-weight:bold;white-space:nowrap;">2.30</div>
<div style="position:absolute;left:855px;top:561.3px;width:43px;height:22px;background:#f9fafc;box-sizing:border-box;border:1px solid #eef0f3;border-right:none"></div>
<div style="position:absolute;left:692px;width:200px;text-align:right;top:565.3px;font-size:12px;line-height:1;color:#56778f;font-weight:normal;white-space:nowrap;">+1.5</div>
<div style="position:absolute;left:898px;top:561.3px;width:37px;height:22px;background:#eff2f6;border-radius:1px"></div>
<div style="position:absolute;left:898.0px;width:37px;text-align:center;top:565.3px;font-size:12px;line-height:1;color:#222;font-weight:bold;white-space:nowrap;">1.55</div>
<div style="position:absolute;left:775px;width:200px;text-align:right;top:565.3px;font-size:12px;line-height:1;color:#4f7c9f;font-weight:normal;white-space:nowrap;">2.5</div>
<svg style="position:absolute;left:976.0px;top:566.8px" width="9" height="12" viewBox="0 0 9 12"><path d="M4.5 0.5L8.5 5H0.5z M4.5 11.5L8.5 7H0.5z" fill="#8ea8bd"/></svg>
<div style="position:absolute;left:993px;top:561.3px;width:44px;height:22px;background:#eff2f6;border-radius:1px"></div>
<div style="position:absolute;left:993.0px;width:44px;text-align:center;top:565.3px;font-size:12px;line-height:1;color:#222;font-weight:bold;white-space:nowrap;">1.75</div>
<div style="position:absolute;left:1041px;top:561.3px;width:45px;height:22px;background:#eff2f6;border-radius:1px"></div>
<div style="position:absolute;left:1041.0px;width:45px;text-align:center;top:565.3px;font-size:12px;line-height:1;color:#222;font-weight:bold;white-space:nowrap;">1.95</div>
<div style="position:absolute;left:924px;width:200px;text-align:right;top:565.3px;font-size:12px;line-height:1;color:#6089a8;font-weight:normal;white-space:nowrap;">+50</div>
<div style="position:absolute;left:2px;top:588px;width:1132px;height:23.5px;background:#dde4e8;"></div>
<div style="position:absolute;left:2px;top:588px;width:1132px;height:2.5px;background:#e5ebee;"></div>
<svg style="position:absolute;left:10.5px;top:592.5px" width="15" height="15" viewBox="0 0 24 24"><path d="M12 2.2l2.95 6.6 7.1.7-5.35 4.75 1.55 7-6.25-3.65-6.25 3.65 1.55-7L1.95 9.5l7.1-.7z" fill="none" stroke="#bdbdbd" stroke-width="2.08" stroke-linejoin="round"/></svg>
<svg style="position:absolute;left:33px;top:594.25px" width="15" height="11" viewBox="0 0 15 11"><rect width="15" height="11" fill="#8b959d"/><circle cx="7.5" cy="5.5" r="4" fill="#c9d0d5"/><path d="M3.5 5.5h8M7.5 1.5v8M4.6 3.2h5.8M4.6 7.8h5.8" stroke="#8b959d" stroke-width="0.8"/><ellipse cx="7.5" cy="5.5" rx="1.8" ry="4" fill="none" stroke="#8b959d" stroke-width="0.8"/></svg>
<div style="position:absolute;left:55px;top:594.88px;font-size:11px;line-height:1;color:#333;font-weight:normal;white-space:nowrap;letter-spacing:0.5px">NHL 22. ЛИГА ПРО. ЗАПАДНАЯ КОНФЕРЕНЦИЯ. ДИВИЗИОН GOLD. ...</div>
<div style="position:absolute;left:437.0px;width:100px;text-align:center;top:594.88px;font-size:11px;line-height:1;color:#5a5a5a;font-weight:normal;white-space:nowrap;letter-spacing:0.3px">1</div>
<div style="position:absolute;left:485.0px;width:100px;text-align:center;top:594.88px;font-size:11px;line-height:1;color:#5a5a5a;font-weight:normal;white-space:nowrap;letter-spacing:0.3px">X</div>
<div style="position:absolute;left:533.0px;width:100px;text-align:center;top:594.88px;font-size:11px;line-height:1;color:#5a5a5a;font-weight:normal;white-space:nowrap;letter-spacing:0.3px">2</div>
<div style="position:absolute;left:581.0px;width:100px;text-align:center;top:594.88px;font-size:11px;line-height:1;color:#5a5a5a;font-weight:normal;white-space:nowrap;letter-spacing:0.3px">1X</div>
<div style="position:absolute;left:630.0px;width:100px;text-align:center;top:594.88px;font-size:11px;line-height:1;color:#5a5a5a;font-weight:normal;white-space:nowrap;letter-spacing:0.3px">12</div>
<div style="position:absolute;left:678.0px;width:100px;text-align:center;top:594.88px;font-size:11px;line-height:1;color:#5a5a5a;font-weight:normal;white-space:nowrap;letter-spacing:0.3px">X2</div>
<div style="position:absolute;left:752.0px;width:100px;text-align:center;top:594.88px;font-size:11px;line-height:1;color:#5a5a5a;font-weight:normal;white-space:nowrap;letter-spacing:0.3px">ФОРА 1</div>
<div style="position:absolute;left:845.0px;width:100px;text-align:center;top:594.88px;font-size:11px;line-height:1;color:#5a5a5a;font-weight:normal;white-space:nowrap;letter-spacing:0.3px">ФОРА 2</div>
<div style="position:absolute;left:914.0px;width:100px;text-align:center;top:594.88px;font-size:11px;line-height:1;color:#5a5a5a;font-weight:normal;white-space:nowrap;letter-spacing:0.3px">ТОТАЛ</div>
<div style="position:absolute;left:965.0px;width:100px;text-align:center;top:594.88px;font-size:11px;line-height:1;color:#5a5a5a;font-weight:normal;white-space:nowrap;letter-spacing:0.3px">Б</div>
<div style="position:absolute;left:1013.0px;width:100px;text-align:center;top:594.88px;font-size:11px;line-height:1;color:#5a5a5a;font-weight:normal;white-space:nowrap;letter-spacing:0.3px">М</div>
<svg style="position:absolute;left:1103.8px;top:598.2px" width="11" height="6" viewBox="0 0 11 6"><path d="M0.8 5.2L5.5 0.9L10.2 5.2" fill="none" stroke="#b9bcbf" stroke-width="1.7"/></svg>
<svg style="position:absolute;left:11.0px;top:619.4px" width="15.2" height="15.2" viewBox="0 0 24 24"><path d="M12 2.2l2.95 6.6 7.1.7-5.35 4.75 1.55 7-6.25-3.65-6.25 3.65 1.55-7L1.95 9.5l7.1-.7z" fill="none" stroke="#bdbdbd" stroke-width="2.05" stroke-linejoin="round"/></svg>
<div style="position:absolute;left:55px;top:620.2px;font-size:12px;line-height:1;color:#222;font-weight:normal;white-space:nowrap;">Минин (GST) Виннипег ...</div>
<div style="position:absolute;right:680px;top:618.5px;height:16px;display:flex;align-items:center;white-space:nowrap;font-size:12px"><span style="position:relative;display:inline-block;width:15px;height:16px;margin-left:0px"><svg style="position:absolute;left:0px;top:2.5px" width="15" height="11" viewBox="0 0 15 11"><rect x="0.5" y="0.5" width="14" height="8.2" fill="#eef6fc" stroke="#557a9b" stroke-width="1"/><path d="M5.4 2.6h4.2M7.5 2.6v3.6" stroke="#557a9b" stroke-width="1"/><rect x="2.2" y="10" width="10.6" height="1" fill="#557a9b"/></svg></span><span style="position:relative;display:inline-block;width:15px;height:16px;margin-left:5px"><svg style="position:absolute;left:0px;top:2.5px" width="15" height="11" viewBox="0 0 15 11"><rect x="5.5" y="0.5" width="4" height="10" fill="#dbe9f3"/><path d="M0.5 10.5V5.5h3.2v5M3.7 8h2M5.5 10.5V0.5h4v10M9.5 2.5h5v8M0 10.5h15" fill="none" stroke="#557a9b" stroke-width="1"/></svg></span><span style="display:inline-block;margin-left:5px;width:72px;height:14px;background:#8b8b8b;color:#f6f6ee;font-size:11px;font-weight:normal;line-height:14px;text-align:center;letter-spacing:-0.4px">ЗАВЕРШЕНО</span><span style="position:relative;display:inline-block;width:11px;height:16px;margin-left:5px"><svg style="position:absolute;left:0px;top:2.5px" width="11" height="11" viewBox="0 0 11 11"><circle cx="5.5" cy="5.5" r="4.9" fill="#fff" stroke="#bdbdbd" stroke-width="1.1"/><path d="M4.9 2.5A3.1 3.1 0 1 0 8.3 6.6L5.3 5.9z" fill="#bdbdbd"/></svg></span><span style="color:#9a9a9a;font-weight:normal;margin-left:4.8px;letter-spacing:0.2px">60:00</span><span style="color:#2b5b82;font-weight:bold;margin-left:5px;letter-spacing:0px">5:1</span><span style="color:#3f6e93;font-weight:normal;margin-left:10px;letter-spacing:0px">(...1-0 3-1)</span></div>
<div style="position:absolute;left:465px;top:615.5px;width:44px;height:22px;background:#f8f9fb;border-radius:1px"></div>
<div style="position:absolute;left:465.0px;width:44px;text-align:center;top:620.64px;font-size:12px;line-height:1;color:#b3b7bb;font-weight:normal;white-space:nowrap;">-</div>
<div style="position:absolute;left:513px;top:615.5px;width:44px;height:22px;background:#f8f9fb;border-radius:1px"></div>
<div style="position:absolute;left:513.0px;width:44px;text-align:center;top:620.64px;font-size:12px;line-height:1;color:#b3b7bb;font-weight:normal;white-space:nowrap;">-</div>
<div style="position:absolute;left:561px;top:615.5px;width:44px;height:22px;background:#f8f9fb;border-radius:1px"></div>
<div style="position:absolute;left:561.0px;width:44px;text-align:center;top:620.64px;font-size:12px;line-height:1;color:#b3b7bb;font-weight:normal;white-space:nowrap;">-</div>
<div style="position:absolute;left:610px;top:615.5px;width:44px;height:22px;background:#f8f9fb;border-radius:1px"></div>
<div style="position:absolute;left:610.0px;width:44px;text-align:center;top:620.64px;font-size:12px;line-height:1;color:#b3b7bb;font-weight:normal;white-space:nowrap;">-</div>
<div style="position:absolute;left:658px;top:615.5px;width:44px;height:22px;background:#f8f9fb;border-radius:1px"></div>
<div style="position:absolute;left:658.0px;width:44px;text-align:center;top:620.64px;font-size:12px;line-height:1;color:#b3b7bb;font-weight:normal;white-space:nowrap;">-</div>
<div style="position:absolute;left:706px;top:615.5px;width:44px;height:22px;background:#f8f9fb;border-radius:1px"></div>
<div style="position:absolute;left:706.0px;width:44px;text-align:center;top:620.64px;font-size:12px;line-height:1;color:#b3b7bb;font-weight:normal;white-space:nowrap;">-</div>
<div style="position:absolute;left:755px;top:615.5px;width:79px;height:22px;background:#f8f9fb;border-radius:1px"></div>
<div style="position:absolute;left:755.0px;width:79px;text-align:center;top:620.64px;font-size:12px;line-height:1;color:#b3b7bb;font-weight:normal;white-space:nowrap;">-</div>
<div style="position:absolute;left:855px;top:615.5px;width:80px;height:22px;background:#f8f9fb;border-radius:1px"></div>
<div style="position:absolute;left:855.0px;width:80px;text-align:center;top:620.64px;font-size:12px;line-height:1;color:#b3b7bb;font-weight:normal;white-space:nowrap;">-</div>
<div style="position:absolute;left:941px;top:615.5px;width:44px;height:22px;background:#fff;box-sizing:border-box;border:1px solid #f1f3f5"></div>
<div style="position:absolute;left:943.0px;width:40px;text-align:center;top:620.64px;font-size:12px;line-height:1;color:#b3b7bb;font-weight:normal;white-space:nowrap;">-</div>
<div style="position:absolute;left:993px;top:615.5px;width:44px;height:22px;background:#f8f9fb;border-radius:1px"></div>
<div style="position:absolute;left:993.0px;width:44px;text-align:center;top:620.64px;font-size:12px;line-height:1;color:#b3b7bb;font-weight:normal;white-space:nowrap;">-</div>
<div style="position:absolute;left:1041px;top:615.5px;width:45px;height:22px;background:#f8f9fb;border-radius:1px"></div>
<div style="position:absolute;left:1041.0px;width:45px;text-align:center;top:620.64px;font-size:12px;line-height:1;color:#b3b7bb;font-weight:normal;white-space:nowrap;">-</div>
<div style="position:absolute;left:1px;top:654px;width:1132px;height:146px;background:#fff;border:1px solid #dde2e7;border-top:none;border-radius:5px 5px 0 0"></div>
<div style="position:absolute;left:1px;top:654px;width:1134px;height:32.5px;background:#c9592a;border-radius:5px 5px 0 0"></div>
<div style="position:absolute;left:1px;top:685.5px;width:1134px;height:1px;background:rgba(40,30,20,0.16);"></div>
<svg style="position:absolute;left:10.4px;top:662.4px" width="16" height="16" viewBox="0 0 24 24"><path d="M12 2.2l2.95 6.6 7.1.7-5.35 4.75 1.55 7-6.25-3.65-6.25 3.65 1.55-7L1.95 9.5l7.1-.7z" fill="none" stroke="#e8a283" stroke-width="1.95" stroke-linejoin="round"/></svg>
<svg style="position:absolute;left:32.1px;top:661.5px" width="16" height="16" viewBox="0 0 16 16"><circle cx="8" cy="8" r="7.5" fill="#fff"/><path d="M0.5 8h15M8 0.5v15M3 2.5c2.5 2.2 2.5 8.8 0 11M13 2.5c-2.5 2.2-2.5 8.8 0 11" fill="none" stroke="#9a4a2a" stroke-width="0.9"/></svg>
<div style="position:absolute;left:55px;top:661.7px;font-size:18px;line-height:1;color:#fff;font-weight:bold;white-space:nowrap;">Баскетбол</div>
<div style="position:absolute;left:435px;width:200px;top:664.1px;text-align:center;white-space:nowrap;font-size:11px;line-height:1;font-weight:bold;color:#fbeee6;letter-spacing:0px">ИСХОДЫ<span style="display:inline-block;width:8px;height:5px;margin-left:8px;position:relative;top:-0.8px"><svg width="9" height="5" viewBox="0 0 9 5" style="position:absolute;left:0;top:0"><path d="M0.6 0.6L4.5 4.3L8.4 0.6" fill="none" stroke="#eba584" stroke-width="1.4"/></svg></span></div>
<div style="position:absolute;left:580px;width:200px;top:664.1px;text-align:center;white-space:nowrap;font-size:11px;line-height:1;font-weight:bold;color:#fbeee6;letter-spacing:0.4px">ДВОЙНОЙ ИСХОД<span style="display:inline-block;width:8px;height:5px;margin-left:8px;position:relative;top:-0.8px"><svg width="9" height="5" viewBox="0 0 9 5" style="position:absolute;left:0;top:0"><path d="M0.6 0.6L4.5 4.3L8.4 0.6" fill="none" stroke="#eba584" stroke-width="1.4"/></svg></span></div>
<div style="position:absolute;left:745px;width:200px;top:664.1px;text-align:center;white-space:nowrap;font-size:11px;line-height:1;font-weight:bold;color:#fbeee6;letter-spacing:0px">ФОРЫ<span style="display:inline-block;width:8px;height:5px;margin-left:8px;position:relative;top:-0.8px"><svg width="9" height="5" viewBox="0 0 9 5" style="position:absolute;left:0;top:0"><path d="M0.6 0.6L4.5 4.3L8.4 0.6" fill="none" stroke="#eba584" stroke-width="1.4"/></svg></span></div>
<div style="position:absolute;left:913.5px;width:200px;top:664.1px;text-align:center;white-space:nowrap;font-size:11px;line-height:1;font-weight:bold;color:#fbeee6;letter-spacing:0px">ТОТАЛЫ<span style="display:inline-block;width:8px;height:5px;margin-left:8px;position:relative;top:-0.8px"><svg width="9" height="5" viewBox="0 0 9 5" style="position:absolute;left:0;top:0"><path d="M0.6 0.6L4.5 4.3L8.4 0.6" fill="none" stroke="#eba584" stroke-width="1.4"/></svg></span></div>
<svg style="position:absolute;left:1103.5px;top:668.4px" width="11.5" height="6.5" viewBox="0 0 11.5 6.5"><path d="M0.8 5.7L5.75 0.9L10.7 5.7" fill="none" stroke="#eba584" stroke-width="1.9"/></svg>
<div style="position:absolute;left:2px;top:686.5px;width:1132px;height:24.2px;background:#f1e5e1;"></div>
<div style="position:absolute;left:2px;top:686.5px;width:1132px;height:2.5px;background:#f7ede9;"></div>
<svg style="position:absolute;left:10.5px;top:691.3px" width="15" height="15" viewBox="0 0 24 24"><path d="M12 2.2l2.95 6.6 7.1.7-5.35 4.75 1.55 7-6.25-3.65-6.25 3.65 1.55-7L1.95 9.5l7.1-.7z" fill="none" stroke="#bdbdbd" stroke-width="2.08" stroke-linejoin="round"/></svg>
<svg style="position:absolute;left:33px;top:691.1px" width="15" height="15" viewBox="0 0 15 15"><rect x="0.5" y="1" width="14" height="14" fill="#f8f4f6"/><path d="M0.8 1.6H5L11 10.5V14.6H0.8z" fill="#1e4fa0"/><path d="M10.5 1.6H14.4V14.6H13z" fill="#d21f32"/><rect x="2" y="9.5" width="7.5" height="3.8" fill="#f2f4fa"/></svg>
<div style="position:absolute;left:55px;top:693.73px;font-size:11px;line-height:1;color:#333;font-weight:normal;white-space:nowrap;letter-spacing:0.5px">NBA. РЕГУЛЯРНЫЙ СЕЗОН</div>
<div style="position:absolute;left:437.0px;width:100px;text-align:center;top:693.73px;font-size:11px;line-height:1;color:#5a5a5a;font-weight:normal;white-space:nowrap;letter-spacing:0.3px">1</div>
<div style="position:absolute;left:485.0px;width:100px;text-align:center;top:693.73px;font-size:11px;line-height:1;color:#5a5a5a;font-weight:normal;white-space:nowrap;letter-spacing:0.3px">X</div>
<div style="position:absolute;left:533.0px;width:100px;text-align:center;top:693.73px;font-size:11px;line-height:1;color:#5a5a5a;font-weight:normal;white-space:nowrap;letter-spacing:0.3px">2</div>
<div style="position:absolute;left:581.0px;width:100px;text-align:center;top:693.73px;font-size:11px;line-height:1;color:#5a5a5a;font-weight:normal;white-space:nowrap;letter-spacing:0.3px">1X</div>
<div style="position:absolute;left:630.0px;width:100px;text-align:center;top:693.73px;font-size:11px;line-height:1;color:#5a5a5a;font-weight:normal;white-space:nowrap;letter-spacing:0.3px">12</div>
<div style="position:absolute;left:678.0px;width:100px;text-align:center;top:693.73px;font-size:11px;line-height:1;color:#5a5a5a;font-weight:normal;white-space:nowrap;letter-spacing:0.3px">X2</div>
<div style="position:absolute;left:752.0px;width:100px;text-align:center;top:693.73px;font-size:11px;line-height:1;color:#5a5a5a;font-weight:normal;white-space:nowrap;letter-spacing:0.3px">ФОРА 1</div>
<div style="position:absolute;left:845.0px;width:100px;text-align:center;top:693.73px;font-size:11px;line-height:1;color:#5a5a5a;font-weight:normal;white-space:nowrap;letter-spacing:0.3px">ФОРА 2</div>
<div style="position:absolute;left:914.0px;width:100px;text-align:center;top:693.73px;font-size:11px;line-height:1;color:#5a5a5a;font-weight:normal;white-space:nowrap;letter-spacing:0.3px">ТОТАЛ</div>
<div style="position:absolute;left:965.0px;width:100px;text-align:center;top:693.73px;font-size:11px;line-height:1;color:#5a5a5a;font-weight:normal;white-space:nowrap;letter-spacing:0.3px">Б</div>
<div style="position:absolute;left:1013.0px;width:100px;text-align:center;top:693.73px;font-size:11px;line-height:1;color:#5a5a5a;font-weight:normal;white-space:nowrap;letter-spacing:0.3px">М</div>
<svg style="position:absolute;left:1103.8px;top:697.1px" width="11" height="6" viewBox="0 0 11 6"><path d="M0.8 5.2L5.5 0.9L10.2 5.2" fill="none" stroke="#b9bcbf" stroke-width="1.7"/></svg>
<svg style="position:absolute;left:11.0px;top:718.3px" width="15.2" height="15.2" viewBox="0 0 24 24"><path d="M12 2.2l2.95 6.6 7.1.7-5.35 4.75 1.55 7-6.25-3.65-6.25 3.65 1.55-7L1.95 9.5l7.1-.7z" fill="none" stroke="#bdbdbd" stroke-width="2.05" stroke-linejoin="round"/></svg>
<svg style="position:absolute;left:34.0px;top:722.1px" width="12" height="6.5" viewBox="0 0 12 6.5"><path d="M0.6 0.6L6.0 5.8L11.4 0.6" fill="none" stroke="#bfc3c7" stroke-width="1.7"/></svg>
<div style="position:absolute;left:55px;top:719.1px;font-size:12px;line-height:1;color:#222;font-weight:normal;white-space:nowrap;">Миннесота Тимбервулвз — ...</div>
<div style="position:absolute;right:680px;top:717.4px;height:16px;display:flex;align-items:center;white-space:nowrap;font-size:12px"><span style="position:relative;display:inline-block;width:15px;height:16px;margin-left:0px"><svg style="position:absolute;left:0px;top:2.5px" width="15" height="11" viewBox="0 0 15 11"><rect x="0.5" y="0.5" width="14" height="8.2" fill="#eef6fc" stroke="#557a9b" stroke-width="1"/><circle cx="7.5" cy="3.2" r="1.1" fill="#6d93b3"/><path d="M5.6 6.8c0-2 3.8-2 3.8 0z" fill="#6d93b3"/><rect x="2.2" y="10" width="10.6" height="1" fill="#557a9b"/></svg></span><span style="position:relative;display:inline-block;width:15px;height:16px;margin-left:5px"><svg style="position:absolute;left:0px;top:2.5px" width="15" height="11" viewBox="0 0 15 11"><rect width="15" height="11" fill="#a0533a"/><path d="M7.5 0v11" stroke="#f5e6de" stroke-width="1"/><rect x="0" y="3.5" width="3" height="4" fill="none" stroke="#f5e6de" stroke-width="0.9"/><rect x="12" y="3.5" width="3" height="4" fill="none" stroke="#f5e6de" stroke-width="0.9"/><circle cx="7.5" cy="5.5" r="1.6" fill="none" stroke="#f5e6de" stroke-width="0.9"/></svg></span><span style="position:relative;display:inline-block;width:15px;height:16px;margin-left:5px"><svg style="position:absolute;left:0px;top:2.5px" width="15" height="11" viewBox="0 0 15 11"><rect x="5.5" y="0.5" width="4" height="10" fill="#dbe9f3"/><path d="M0.5 10.5V5.5h3.2v5M3.7 8h2M5.5 10.5V0.5h4v10M9.5 2.5h5v8M0 10.5h15" fill="none" stroke="#557a9b" stroke-width="1"/></svg></span><span style="position:relative;display:inline-block;width:11px;height:16px;margin-left:5px"><svg style="position:absolute;left:0px;top:2.5px" width="11" height="11" viewBox="0 0 11 11"><circle cx="5.5" cy="5.5" r="4.9" fill="#fff" stroke="#6cbf4a" stroke-width="1.1"/><path d="M4.9 2.5A3.1 3.1 0 1 0 8.3 6.6L5.3 5.9z" fill="#6cbf4a"/></svg></span><span style="color:#9a9a9a;font-weight:normal;margin-left:4.8px;letter-spacing:0.2px">19:03</span><span style="color:#2b5b82;font-weight:bold;margin-left:5px;letter-spacing:0px">40:35</span><span style="color:#3f6e93;font-weight:normal;margin-left:10px;letter-spacing:0px">(27-25 13-10)</span></div>
<div style="position:absolute;left:465px;top:714.4px;width:44px;height:22px;background:#eff2f6;border-radius:1px"></div>
<div style="position:absolute;left:465.0px;width:44px;text-align:center;top:718.4px;font-size:12px;line-height:1;color:#222;font-weight:bold;white-space:nowrap;">1.35</div>
<div style="position:absolute;left:513px;top:714.4px;width:44px;height:22px;background:#f8f9fb;border-radius:1px"></div>
<div style="position:absolute;left:513.0px;width:44px;text-align:center;top:719.54px;font-size:12px;line-height:1;color:#b3b7bb;font-weight:normal;white-space:nowrap;">-</div>
<div style="position:absolute;left:561px;top:714.4px;width:44px;height:22px;background:#eff2f6;border-radius:1px"></div>
<div style="position:absolute;left:561.0px;width:44px;text-align:center;top:718.4px;font-size:12px;line-height:1;color:#222;font-weight:bold;white-space:nowrap;">3.20</div>
<div style="position:absolute;left:610px;top:714.4px;width:44px;height:22px;background:#f8f9fb;border-radius:1px"></div>
<div style="position:absolute;left:610.0px;width:44px;text-align:center;top:719.54px;font-size:12px;line-height:1;color:#b3b7bb;font-weight:normal;white-space:nowrap;">-</div>
<div style="position:absolute;left:658px;top:714.4px;width:44px;height:22px;background:#f8f9fb;border-radius:1px"></div>
<div style="position:absolute;left:658.0px;width:44px;text-align:center;top:719.54px;font-size:12px;line-height:1;color:#b3b7bb;font-weight:normal;white-space:nowrap;">-</div>
<div style="position:absolute;left:706px;top:714.4px;width:44px;height:22px;background:#f8f9fb;border-radius:1px"></div>
<div style="position:absolute;left:706.0px;width:44px;text-align:center;top:719.54px;font-size:12px;line-height:1;color:#b3b7bb;font-weight:normal;white-space:nowrap;">-</div>
<div style="position:absolute;left:755px;top:714.4px;width:42px;height:22px;background:#f9fafc;box-sizing:border-box;border:1px solid #eef0f3;border-right:none"></div>
<div style="position:absolute;left:591px;width:200px;text-align:right;top:718.4px;font-size:12px;line-height:1;color:#56778f;font-weight:normal;white-space:nowrap;">-5.5</div>
<div style="position:absolute;left:797px;top:714.4px;width:37px;height:22px;background:#eff2f6;border-radius:1px"></div>
<div style="position:absolute;left:797.0px;width:37px;text-align:center;top:718.4px;font-size:12px;line-height:1;color:#222;font-weight:bold;white-space:nowrap;">1.87</div>
<svg style="position:absolute;left:840.5px;top:719.9px" width="9" height="12" viewBox="0 0 9 12"><path d="M4.5 0.5L8.5 5H0.5z M4.5 11.5L8.5 7H0.5z" fill="#8ea8bd"/></svg>
<div style="position:absolute;left:855px;top:714.4px;width:43px;height:22px;background:#f9fafc;box-sizing:border-box;border:1px solid #eef0f3;border-right:none"></div>
<div style="position:absolute;left:692px;width:200px;text-align:right;top:718.4px;font-size:12px;line-height:1;color:#56778f;font-weight:normal;white-space:nowrap;">+5.5</div>
<div style="position:absolute;left:898px;top:714.4px;width:37px;height:22px;background:#eff2f6;border-radius:1px"></div>
<div style="position:absolute;left:898.0px;width:37px;text-align:center;top:718.4px;font-size:12px;line-height:1;color:#222;font-weight:bold;white-space:nowrap;">1.93</div>
<div style="position:absolute;left:775px;width:200px;text-align:right;top:718.4px;font-size:12px;line-height:1;color:#4f7c9f;font-weight:normal;white-space:nowrap;">204.5</div>
<svg style="position:absolute;left:976.0px;top:719.9px" width="9" height="12" viewBox="0 0 9 12"><path d="M4.5 0.5L8.5 5H0.5z M4.5 11.5L8.5 7H0.5z" fill="#8ea8bd"/></svg>
<div style="position:absolute;left:993px;top:714.4px;width:44px;height:22px;background:#dca3a5;border-radius:1px"></div>
<div style="position:absolute;left:1032px;top:731.4px;width:0;height:0;border-left:5px solid transparent;border-bottom:5px solid #c0272d"></div>
<div style="position:absolute;left:993.0px;width:44px;text-align:center;top:718.4px;font-size:12px;line-height:1;color:#222;font-weight:bold;white-space:nowrap;">1.85</div>
<div style="position:absolute;left:1041px;top:714.4px;width:45px;height:22px;background:#d5e2b4;border-radius:1px"></div>
<div style="position:absolute;left:1081px;top:714.4px;width:0;height:0;border-left:5px solid transparent;border-top:5px solid #4a8a2a"></div>
<div style="position:absolute;left:1041.0px;width:45px;text-align:center;top:718.4px;font-size:12px;line-height:1;color:#222;font-weight:bold;white-space:nowrap;">1.95</div>
<div style="position:absolute;left:924px;width:200px;text-align:right;top:718.4px;font-size:12px;line-height:1;color:#6089a8;font-weight:normal;white-space:nowrap;">+38</div>
<div style="position:absolute;left:48px;top:739.6px;width:1086px;height:1px;background:#eceef1;"></div>
<div style="position:absolute;left:74px;top:749.6px;font-size:12px;line-height:1;color:#3d6f98;font-weight:normal;white-space:nowrap;">2-я четверть</div>
<div style="position:absolute;left:258px;width:200px;text-align:right;top:749.6px;font-size:12px;line-height:1;color:#2b5b82;font-weight:bold;white-space:nowrap;">13:10</div>
<div style="position:absolute;left:465px;top:743.6px;width:44px;height:22px;background:#eff2f6;border-radius:1px"></div>
<div style="position:absolute;left:465.0px;width:44px;text-align:center;top:747.6px;font-size:12px;line-height:1;color:#222;font-weight:bold;white-space:nowrap;">1.43</div>
<div style="position:absolute;left:513px;top:743.6px;width:44px;height:22px;background:#eff2f6;border-radius:1px"></div>
<div style="position:absolute;left:513.0px;width:44px;text-align:center;top:747.6px;font-size:12px;line-height:1;color:#222;font-weight:bold;white-space:nowrap;">14.00</div>
<div style="position:absolute;left:561px;top:743.6px;width:44px;height:22px;background:#eff2f6;border-radius:1px"></div>
<div style="position:absolute;left:561.0px;width:44px;text-align:center;top:747.6px;font-size:12px;line-height:1;color:#222;font-weight:bold;white-space:nowrap;">3.00</div>
<div style="position:absolute;left:610px;top:743.6px;width:44px;height:22px;background:#eff2f6;border-radius:1px"></div>
<div style="position:absolute;left:610.0px;width:44px;text-align:center;top:747.6px;font-size:12px;line-height:1;color:#222;font-weight:bold;white-space:nowrap;">1.30</div>
<div style="position:absolute;left:658px;top:743.6px;width:44px;height:22px;background:#f8f9fb;border-radius:1px"></div>
<div style="position:absolute;left:658.0px;width:44px;text-align:center;top:748.74px;font-size:12px;line-height:1;color:#b3b7bb;font-weight:normal;white-space:nowrap;">-</div>
<div style="position:absolute;left:706px;top:743.6px;width:44px;height:22px;background:#eff2f6;border-radius:1px"></div>
<div style="position:absolute;left:706.0px;width:44px;text-align:center;top:747.6px;font-size:12px;line-height:1;color:#222;font-weight:bold;white-space:nowrap;">2.45</div>
<div style="position:absolute;left:755px;top:743.6px;width:42px;height:22px;background:#f9fafc;box-sizing:border-box;border:1px solid #eef0f3;border-right:none"></div>
<div style="position:absolute;left:591px;width:200px;text-align:right;top:747.6px;font-size:12px;line-height:1;color:#56778f;font-weight:normal;white-space:nowrap;">-2.5</div>
<div style="position:absolute;left:797px;top:743.6px;width:37px;height:22px;background:#eff2f6;border-radius:1px"></div>
<div style="position:absolute;left:797.0px;width:37px;text-align:center;top:747.6px;font-size:12px;line-height:1;color:#222;font-weight:bold;white-space:nowrap;">1.83</div>
<svg style="position:absolute;left:840.5px;top:749.1px" width="9" height="12" viewBox="0 0 9 12"><path d="M4.5 0.5L8.5 5H0.5z M4.5 11.5L8.5 7H0.5z" fill="#8ea8bd"/></svg>
<div style="position:absolute;left:855px;top:743.6px;width:43px;height:22px;background:#f9fafc;box-sizing:border-box;border:1px solid #eef0f3;border-right:none"></div>
<div style="position:absolute;left:692px;width:200px;text-align:right;top:747.6px;font-size:12px;line-height:1;color:#56778f;font-weight:normal;white-space:nowrap;">+2.5</div>
<div style="position:absolute;left:898px;top:743.6px;width:37px;height:22px;background:#eff2f6;border-radius:1px"></div>
<div style="position:absolute;left:898.0px;width:37px;text-align:center;top:747.6px;font-size:12px;line-height:1;color:#222;font-weight:bold;white-space:nowrap;">1.87</div>
<div style="position:absolute;left:775px;width:200px;text-align:right;top:747.6px;font-size:12px;line-height:1;color:#4f7c9f;font-weight:normal;white-space:nowrap;">46.5</div>
<svg style="position:absolute;left:976.0px;top:749.1px" width="9" height="12" viewBox="0 0 9 12"><path d="M4.5 0.5L8.5 5H0.5z M4.5 11.5L8.5 7H0.5z" fill="#8ea8bd"/></svg>
<div style="position:absolute;left:993px;top:743.6px;width:44px;height:22px;background:#dca3a5;border-radius:1px"></div>
<div style="position:absolute;left:1032px;top:760.6px;width:0;height:0;border-left:5px solid transparent;border-bottom:5px solid #c0272d"></div>
<div style="position:absolute;left:993.0px;width:44px;text-align:center;top:747.6px;font-size:12px;line-height:1;color:#222;font-weight:bold;white-space:nowrap;">1.67</div>
<div style="position:absolute;left:1041px;top:743.6px;width:45px;height:22px;background:#d5e2b4;border-radius:1px"></div>
<div style="position:absolute;left:1081px;top:743.6px;width:0;height:0;border-left:5px solid transparent;border-top:5px solid #4a8a2a"></div>
<div style="position:absolute;left:1041.0px;width:45px;text-align:center;top:747.6px;font-size:12px;line-height:1;color:#222;font-weight:bold;white-space:nowrap;">2.07</div>
<div style="position:absolute;left:924px;width:200px;text-align:right;top:747.6px;font-size:12px;line-height:1;color:#6089a8;font-weight:normal;white-space:nowrap;">+45</div>
<div style="position:absolute;left:48px;top:771px;width:1086px;height:1px;background:#eceef1;"></div>
<div style="position:absolute;left:74px;top:781.0px;font-size:12px;line-height:1;color:#5282a8;font-weight:normal;white-space:nowrap;border-bottom:1px dashed #56809f;padding-bottom:0px;line-height:12px">Показать еще 2 подсобытия</div>
</body></html>
